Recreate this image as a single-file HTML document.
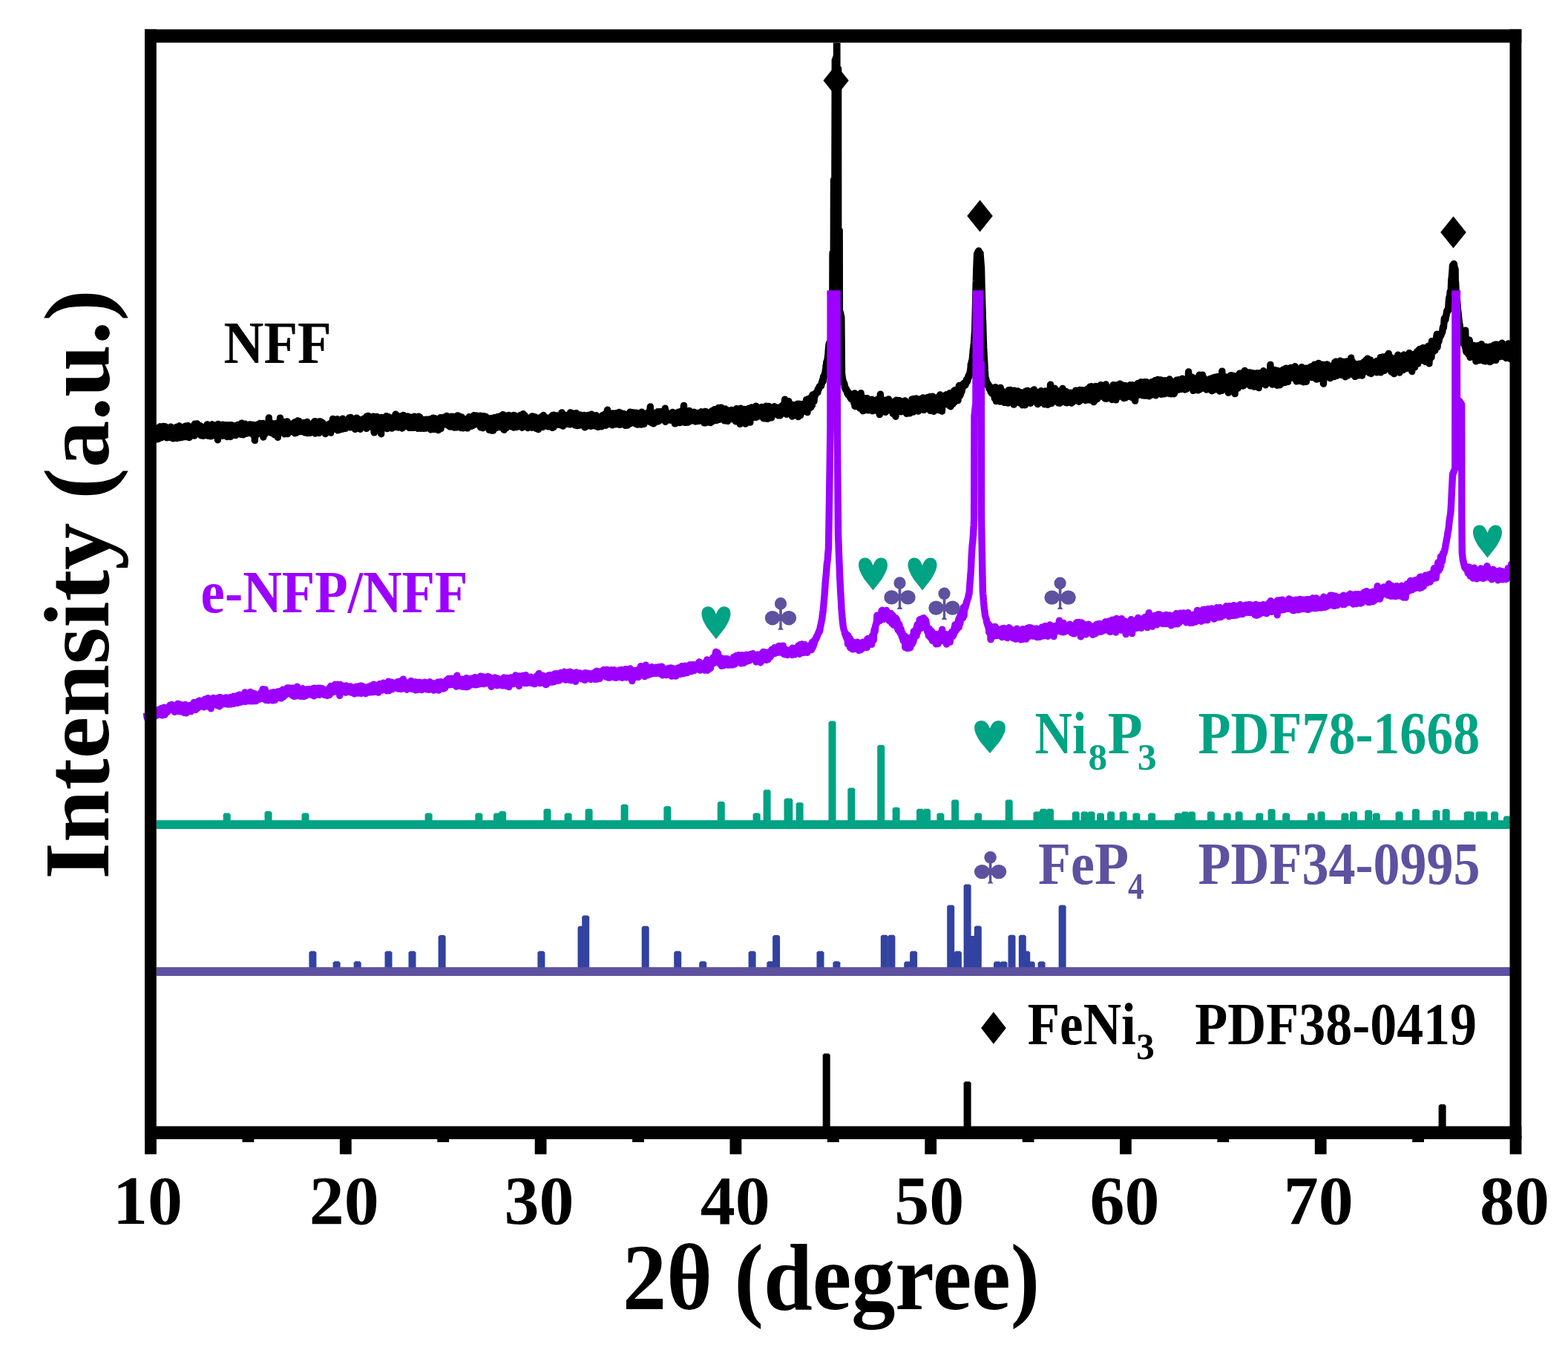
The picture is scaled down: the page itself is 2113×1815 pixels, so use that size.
<!DOCTYPE html><html><head><meta charset="utf-8"><title>XRD</title><style>html,body{margin:0;padding:0;background:#fff;overflow:hidden}svg{display:block}</style></head><body><svg width="2113" height="1815" viewBox="0 0 2113 1815"><defs><clipPath id="pa"><rect x="190" y="57.5" width="1845" height="1460"/></clipPath></defs><rect width="2113" height="1815" fill="#fff"/><g clip-path="url(#pa)" fill="none" stroke-linejoin="round" stroke-linecap="butt"><path d="M203.0 587.3L203.5 591.9L204.1 589.6L204.6 580.1L205.1 581.2L205.6 591.0L206.2 576.0L206.7 589.9L207.2 589.4L207.7 583.6L208.3 580.7L208.8 580.1L209.3 579.6L209.8 582.8L210.4 583.7L210.9 584.4L211.4 591.9L211.9 588.3L212.5 585.3L213.0 591.5L213.5 578.1L214.0 577.1L214.6 584.8L215.1 575.0L215.6 574.8L216.1 583.0L216.7 582.1L217.2 589.9L217.7 584.9L218.2 583.0L218.8 582.7L219.3 578.5L219.8 574.5L220.3 577.6L220.9 586.3L221.4 577.9L221.9 580.9L222.4 574.6L223.0 588.9L223.5 577.3L224.0 579.3L224.5 589.8L225.1 583.5L225.6 589.2L226.1 585.6L226.7 587.4L227.2 576.1L227.7 583.8L228.2 583.1L228.8 589.3L229.3 580.4L229.8 584.4L230.0 575.1L230.3 580.7L230.9 579.6L231.4 576.6L231.9 588.1L232.4 580.5L233.0 590.8L233.5 584.1L234.0 584.4L234.5 584.9L235.1 585.6L235.6 576.5L236.1 581.5L236.6 578.0L237.2 580.8L237.7 575.5L238.2 590.5L238.7 577.4L239.3 585.3L239.8 578.8L240.3 588.6L240.8 584.9L241.4 574.0L241.9 588.0L242.4 589.7L242.9 588.9L243.5 583.1L244.0 575.8L244.5 576.6L245.0 589.3L245.6 582.8L246.1 576.4L246.6 588.6L247.1 584.4L247.7 583.2L248.2 579.9L248.7 580.5L249.3 577.6L249.8 574.1L250.3 588.6L250.8 581.6L251.4 582.9L251.9 579.0L252.4 586.3L252.9 573.8L253.5 579.7L254.0 573.7L254.5 575.1L255.0 589.6L255.6 584.1L256.1 580.0L256.6 581.5L257.1 587.3L257.7 578.0L258.2 582.1L258.7 583.6L259.2 577.8L259.8 580.4L260.3 584.6L260.8 586.9L261.3 573.8L261.9 587.1L262.4 571.1L262.9 583.9L263.4 584.8L264.0 573.2L264.5 578.0L265.0 584.8L265.5 571.0L266.1 581.5L266.6 584.3L267.1 579.5L267.6 583.1L268.2 574.5L268.7 574.0L269.2 576.8L269.7 573.6L270.3 576.4L270.8 586.7L271.3 580.2L271.9 576.2L272.4 575.0L272.9 586.7L273.4 577.9L274.0 587.2L274.5 579.2L275.0 579.3L275.5 577.9L276.1 583.2L276.6 580.4L277.1 577.8L277.6 584.5L278.2 577.7L278.7 586.6L279.2 571.9L279.7 578.2L280.3 579.9L280.8 587.4L281.3 575.4L281.8 585.0L282.4 582.8L282.9 583.5L283.4 582.0L283.9 587.9L284.5 576.8L285.0 577.9L285.5 574.5L286.0 571.8L286.6 574.5L287.1 586.6L287.6 585.2L288.1 572.6L288.7 581.0L289.2 578.7L289.7 580.7L290.2 581.7L290.8 575.6L291.3 586.9L291.8 578.3L292.3 581.1L292.9 581.2L293.4 592.7L293.9 571.4L294.5 577.5L295.0 583.7L295.5 584.7L296.0 583.3L296.6 572.8L297.1 586.7L297.6 584.9L298.1 586.4L298.7 580.4L299.2 587.3L299.7 572.4L300.0 572.3L300.2 572.2L300.8 576.3L301.3 576.3L301.8 575.4L302.3 582.0L302.9 572.9L303.4 582.4L303.9 575.1L304.4 584.0L305.0 572.7L305.5 577.6L306.0 588.5L306.5 581.5L307.1 586.2L307.6 583.5L308.1 582.7L308.6 575.4L309.2 572.9L309.7 572.7L310.2 585.8L310.7 588.5L311.3 586.6L311.8 572.7L312.3 577.6L312.8 577.2L313.4 573.7L313.9 582.5L314.4 585.4L314.9 577.0L315.5 586.4L316.0 585.2L316.5 573.6L317.1 584.6L317.6 586.5L318.1 574.6L318.6 581.0L319.2 582.0L319.7 581.4L320.2 572.5L320.7 582.1L321.3 581.5L321.8 584.6L322.3 584.2L322.8 575.8L323.4 582.5L323.9 584.9L324.4 585.2L324.9 572.5L325.5 570.1L326.0 580.8L326.5 573.2L327.0 579.1L327.6 585.7L328.1 575.9L328.6 573.7L329.1 577.2L329.7 580.7L330.2 571.2L330.7 576.1L331.2 571.9L331.8 581.1L332.3 584.1L332.8 576.3L333.3 576.3L333.9 579.3L334.4 573.8L334.9 574.5L335.4 576.0L336.0 578.3L336.5 571.9L337.0 583.6L337.5 580.7L338.1 575.9L338.6 572.2L339.1 584.1L339.7 573.2L340.2 573.3L340.7 573.3L341.2 572.4L341.8 586.7L342.3 584.6L342.8 576.3L343.3 593.4L343.9 581.6L344.4 574.0L344.9 578.2L345.4 585.9L346.0 577.0L346.5 582.7L347.0 571.9L347.5 582.7L348.1 583.3L348.6 584.0L349.1 581.3L349.6 575.8L350.2 570.4L350.7 578.1L351.2 582.0L351.7 572.1L352.3 573.3L352.8 577.8L353.3 581.4L353.8 577.3L354.4 570.4L354.9 589.0L355.4 581.9L355.9 579.2L356.5 580.5L357.0 585.2L357.5 584.2L358.0 582.6L358.6 581.4L359.1 574.9L359.6 579.1L360.1 571.3L360.7 581.2L361.2 581.2L361.7 580.6L362.3 563.0L362.8 574.8L363.3 575.5L363.8 568.9L364.4 582.9L364.9 577.8L365.4 575.1L365.9 577.9L366.5 580.9L367.0 575.1L367.5 582.9L368.0 584.4L368.6 575.3L369.1 571.0L369.6 581.8L370.1 585.8L370.7 571.2L371.2 581.0L371.7 582.9L372.2 584.6L372.8 570.8L373.3 570.3L373.8 585.7L374.3 589.3L374.9 576.9L375.4 578.5L375.9 576.2L376.4 581.4L377.0 571.7L377.5 563.1L378.0 572.0L378.5 581.5L379.1 569.3L379.6 576.2L380.1 568.5L380.6 573.3L381.2 582.7L381.7 580.1L382.2 575.5L382.7 568.5L383.3 584.7L383.8 582.8L384.3 583.2L384.9 571.6L385.4 574.1L385.9 571.2L386.4 569.5L387.0 567.9L387.5 584.6L388.0 569.5L388.5 570.5L389.1 582.4L389.6 575.9L390.1 570.7L390.6 579.2L391.2 572.2L391.7 576.7L392.2 572.5L392.7 576.6L393.3 578.5L393.8 576.8L394.3 574.4L394.8 581.1L395.4 582.5L395.9 570.4L396.4 569.5L396.9 569.0L397.5 583.9L398.0 583.1L398.5 570.7L399.0 583.4L399.6 570.1L400.0 575.2L400.1 575.0L400.6 582.2L401.1 567.0L401.7 571.7L402.2 576.6L402.7 567.4L403.2 570.3L403.8 574.3L404.3 581.5L404.8 579.5L405.3 580.7L405.9 579.6L406.4 578.7L406.9 581.2L407.5 578.4L408.0 579.4L408.5 571.9L409.0 569.6L409.6 579.9L410.1 569.7L410.6 582.8L411.1 577.2L411.7 572.6L412.2 583.1L412.7 569.6L413.2 575.8L413.8 568.5L414.3 583.6L414.8 576.9L415.3 580.8L415.9 571.8L416.4 580.8L416.9 579.1L417.4 578.0L418.0 583.3L418.5 574.4L419.0 574.1L419.5 578.9L420.1 581.4L420.6 572.8L421.1 578.6L421.6 570.7L422.2 576.7L422.7 580.5L423.2 568.4L423.7 579.9L424.3 567.6L424.8 584.0L425.3 575.5L425.8 574.5L426.4 580.0L426.9 576.6L427.4 580.2L427.9 569.0L428.5 577.2L429.0 577.1L429.5 583.5L430.1 568.0L430.6 575.1L431.1 578.1L431.6 576.6L432.2 568.3L432.7 577.2L433.2 570.6L433.7 570.1L434.3 581.8L434.8 569.9L435.3 574.2L435.8 579.2L436.4 578.4L436.9 575.6L437.4 579.9L437.9 573.9L438.5 584.5L439.0 579.9L439.5 577.4L440.0 576.7L440.6 572.6L441.1 575.1L441.6 572.3L442.1 578.2L442.7 571.8L443.2 573.2L443.7 578.1L444.2 573.6L444.8 570.7L445.3 579.0L445.8 583.1L446.3 579.0L446.9 572.4L447.4 571.8L447.9 576.3L448.4 564.4L449.0 570.4L449.5 578.4L450.0 573.4L450.5 572.9L451.1 574.6L451.6 574.7L452.1 573.0L452.7 570.1L453.2 565.9L453.7 567.7L454.2 564.7L454.8 570.1L455.3 579.9L455.8 568.7L456.3 570.3L456.9 569.0L457.4 572.7L457.9 579.1L458.4 578.1L459.0 569.3L459.5 567.4L460.0 578.1L460.5 567.4L461.1 574.8L461.6 564.2L462.1 578.0L462.6 568.4L463.2 571.6L463.7 566.4L464.2 570.3L464.7 577.3L465.3 577.3L465.8 571.0L466.3 576.1L466.8 570.6L467.4 569.1L467.9 572.0L468.4 565.9L468.9 574.1L469.5 574.4L470.0 575.4L470.5 562.9L471.0 566.1L471.6 575.8L472.1 569.3L472.6 562.5L473.1 573.2L473.7 565.6L474.2 572.4L474.7 567.8L475.3 572.3L475.8 570.1L476.3 569.6L476.8 570.4L477.4 572.3L477.9 565.0L478.4 578.2L478.9 566.7L479.5 567.1L480.0 566.3L480.5 563.1L481.0 569.4L481.6 575.5L482.1 574.5L482.6 565.7L483.1 564.7L483.7 568.0L484.2 575.8L484.7 570.9L485.2 578.3L485.8 573.8L486.3 573.2L486.8 575.7L487.3 575.3L487.9 568.2L488.4 566.6L488.9 569.6L489.4 570.4L490.0 564.2L490.5 569.3L491.0 572.5L491.5 563.6L492.1 563.5L492.6 564.0L493.1 565.7L493.6 577.3L494.2 561.0L494.7 563.6L495.2 563.2L495.7 568.4L496.3 560.4L496.8 568.0L497.3 562.8L497.9 564.6L498.4 573.7L498.9 571.1L499.4 570.6L500.0 567.0L500.0 567.2L500.5 574.2L501.0 562.8L501.5 576.1L502.1 575.6L502.6 571.8L503.1 561.1L503.6 571.8L504.2 582.9L504.7 573.8L505.2 564.2L505.7 577.1L506.3 576.0L506.8 562.7L507.3 566.2L507.8 561.4L508.4 575.4L508.9 577.0L509.4 578.4L509.9 571.9L510.5 573.0L511.0 573.3L511.5 571.6L512.0 578.3L512.6 572.4L513.1 567.8L513.6 584.7L514.1 562.5L514.7 574.8L515.2 574.4L515.7 569.7L516.2 577.2L516.8 575.6L517.3 568.3L517.8 563.8L518.3 564.7L518.9 565.6L519.4 567.6L519.9 570.0L520.5 560.8L521.0 566.9L521.5 577.6L522.0 573.7L522.6 576.6L523.1 568.7L523.6 561.6L524.1 575.1L524.7 565.6L525.2 563.7L525.7 564.7L526.2 572.9L526.8 564.6L527.3 565.5L527.8 577.1L528.3 565.5L528.9 573.0L529.4 563.0L529.9 574.9L530.4 562.8L531.0 569.7L531.5 561.4L532.0 570.4L532.5 575.5L533.1 558.2L533.6 565.7L534.1 559.5L534.6 571.5L535.2 566.4L535.7 571.9L536.2 568.9L536.7 576.0L537.3 566.1L537.8 574.1L538.3 574.0L538.8 573.7L539.4 567.3L539.9 573.3L540.4 572.7L540.9 560.5L541.5 560.9L542.0 577.1L542.5 572.6L543.1 563.7L543.6 559.5L544.1 564.8L544.6 568.0L545.2 574.7L545.7 567.5L546.2 564.7L546.7 565.0L547.3 565.8L547.8 563.5L548.3 564.4L548.8 562.8L549.4 560.9L549.9 568.0L550.4 563.7L550.9 573.0L551.5 576.3L552.0 565.1L552.5 570.5L553.0 569.5L553.6 562.1L554.1 563.1L554.6 576.4L555.1 569.3L555.7 575.1L556.2 562.3L556.7 571.5L557.2 576.2L557.8 576.2L558.3 561.2L558.8 570.1L559.3 567.4L559.9 574.1L560.4 562.1L560.9 565.3L561.4 574.8L562.0 568.7L562.5 568.4L563.0 577.3L563.5 565.9L564.1 561.1L564.6 567.2L565.1 563.1L565.7 561.9L566.2 570.4L566.7 577.2L567.2 570.8L567.8 572.1L568.3 566.6L568.8 571.1L569.3 574.4L569.9 571.8L570.4 575.7L570.9 577.2L571.4 565.5L572.0 572.4L572.5 570.9L573.0 565.4L573.5 573.4L574.1 577.0L574.6 565.2L575.1 572.4L575.6 575.7L576.2 570.0L576.7 567.7L577.2 569.4L577.7 572.4L578.3 574.9L578.8 572.6L579.3 564.7L579.8 577.0L580.4 578.8L580.9 564.4L581.4 566.9L581.9 565.5L582.5 577.2L583.0 578.3L583.5 563.2L584.0 568.2L584.6 565.7L585.1 570.5L585.6 578.4L586.1 563.6L586.7 565.4L587.2 570.9L587.7 571.6L588.3 575.4L588.8 570.1L589.3 565.0L589.8 568.7L590.4 579.6L590.9 575.6L591.4 564.6L591.9 576.6L592.5 567.9L593.0 576.0L593.5 562.6L594.0 577.5L594.6 565.0L595.1 570.0L595.6 573.5L596.1 570.7L596.7 564.5L597.2 563.9L597.7 566.3L598.2 562.1L598.8 564.7L599.3 563.1L599.8 568.7L600.3 566.6L600.9 570.5L601.4 565.0L601.9 560.5L602.4 565.5L603.0 572.8L603.5 563.9L604.0 564.8L604.5 572.4L605.1 566.2L605.6 574.5L606.1 575.0L606.6 564.4L607.2 571.7L607.7 563.3L608.2 561.3L608.7 566.5L609.3 569.4L609.8 575.2L610.3 561.5L610.9 571.4L611.4 567.4L611.9 561.4L612.4 576.1L613.0 571.3L613.5 561.5L614.0 575.1L614.5 561.2L615.1 561.0L615.6 565.2L616.1 575.7L616.6 560.0L617.2 575.4L617.7 570.1L618.2 560.6L618.7 569.3L619.3 567.3L619.8 569.1L620.3 572.1L620.8 571.1L621.4 576.6L621.9 562.0L622.4 573.4L622.9 566.5L623.5 573.0L624.0 575.7L624.5 576.8L625.0 564.2L625.6 567.5L626.1 576.2L626.6 576.3L627.1 572.4L627.7 576.4L628.2 567.2L628.7 566.7L629.2 572.6L629.8 576.9L630.3 568.2L630.8 567.2L631.3 568.0L631.9 562.9L632.4 561.6L632.9 573.6L633.5 570.3L634.0 572.1L634.5 574.4L635.0 564.4L635.6 564.4L636.1 565.1L636.6 565.5L637.1 573.4L637.7 566.6L638.2 565.6L638.7 559.7L639.2 563.1L639.8 561.6L640.3 571.9L640.8 569.9L641.3 564.7L641.9 562.5L642.4 560.0L642.9 566.4L643.4 569.3L644.0 563.6L644.5 565.2L645.0 569.7L645.5 569.3L646.1 561.6L646.6 571.2L647.1 560.3L647.6 575.8L648.2 562.4L648.7 563.3L649.2 562.5L649.7 576.3L650.0 564.2L650.3 569.9L650.8 576.7L651.3 576.2L651.8 560.6L652.4 569.2L652.9 570.8L653.4 572.8L653.9 566.7L654.5 566.9L655.0 561.5L655.5 562.3L656.0 571.5L656.6 563.5L657.1 566.0L657.6 568.5L658.2 564.1L658.7 563.6L659.2 579.3L659.7 570.9L660.3 566.9L660.8 575.8L661.3 563.6L661.8 567.7L662.4 580.1L662.9 578.9L663.4 574.2L663.9 564.6L664.5 580.0L665.0 563.0L665.5 566.2L666.0 562.6L666.6 564.1L667.1 572.7L667.6 563.1L668.1 563.8L668.7 576.6L669.2 566.5L669.7 566.2L670.2 561.7L670.8 573.9L671.3 571.7L671.8 569.3L672.3 570.4L672.9 561.2L673.4 574.8L673.9 569.5L674.4 575.9L675.0 573.5L675.5 570.4L676.0 568.3L676.5 559.5L677.1 574.8L677.6 558.8L678.1 561.6L678.6 571.5L679.2 579.3L679.7 573.2L680.2 567.4L680.8 562.6L681.3 560.1L681.8 574.4L682.3 576.6L682.9 563.7L683.4 574.6L683.9 566.4L684.4 564.8L685.0 568.1L685.5 559.4L686.0 566.9L686.5 562.6L687.1 571.5L687.6 567.7L688.1 574.1L688.6 574.5L689.2 564.3L689.7 563.7L690.2 575.1L690.7 567.5L691.3 560.4L691.8 559.5L692.3 576.0L692.8 568.8L693.4 559.7L693.9 567.7L694.4 567.6L694.9 566.4L695.5 575.5L696.0 575.5L696.5 561.1L697.0 561.6L697.6 566.1L698.1 573.6L698.6 569.9L699.1 571.8L699.7 569.1L700.2 562.8L700.7 573.4L701.2 559.4L701.8 571.3L702.3 562.5L702.8 567.4L703.4 576.2L703.9 568.6L704.4 560.2L704.9 557.7L705.5 570.8L706.0 560.3L706.5 563.8L707.0 559.7L707.6 568.9L708.1 566.2L708.6 568.3L709.1 564.8L709.7 571.1L710.2 562.7L710.7 575.5L711.2 576.5L711.8 568.4L712.3 567.9L712.8 574.8L713.3 564.9L713.9 573.9L714.4 564.9L714.9 572.5L715.4 565.8L716.0 570.5L716.5 576.2L717.0 561.0L717.5 574.2L718.1 569.6L718.6 566.8L719.1 566.3L719.6 561.4L720.2 564.8L720.7 571.2L721.2 562.0L721.7 572.0L722.3 577.1L722.8 577.4L723.3 575.8L723.8 574.3L724.4 563.3L724.9 577.1L725.4 578.6L726.0 570.3L726.5 575.3L727.0 570.8L727.5 568.9L728.1 563.3L728.6 568.8L729.1 564.7L729.6 561.7L730.2 561.7L730.7 573.4L731.2 575.5L731.7 561.8L732.3 559.5L732.8 563.8L733.3 561.6L733.8 562.5L734.4 569.3L734.9 566.5L735.4 566.6L735.9 562.7L736.5 570.7L737.0 564.1L737.5 566.0L738.0 567.2L738.6 574.9L739.1 563.4L739.6 571.6L740.1 564.5L740.7 574.7L741.2 566.0L741.7 567.9L742.2 574.4L742.8 570.8L743.3 560.7L743.8 561.4L744.3 576.3L744.9 559.5L745.4 559.9L745.9 575.6L746.4 559.1L747.0 561.5L747.5 562.4L748.0 560.0L748.6 566.7L749.1 568.7L749.6 563.8L750.1 560.0L750.7 572.2L751.2 572.0L751.7 567.6L752.2 560.1L752.8 567.1L753.3 568.6L753.8 565.0L754.3 572.5L754.9 564.1L755.4 566.2L755.9 559.2L756.4 567.0L757.0 555.9L757.5 569.7L758.0 561.3L758.5 574.1L759.1 569.2L759.6 563.9L760.1 563.7L760.6 569.9L761.2 559.2L761.7 567.2L762.2 568.5L762.7 564.8L763.3 570.9L763.8 563.8L764.3 563.6L764.8 560.4L765.4 571.4L765.9 560.8L766.4 567.4L766.9 562.4L767.5 571.7L768.0 571.9L768.5 555.9L769.0 561.3L769.6 566.1L770.1 556.9L770.6 564.4L771.2 556.7L771.7 565.5L772.2 559.2L772.7 562.5L773.3 561.5L773.8 566.8L774.3 570.8L774.8 572.9L775.4 562.3L775.9 566.6L776.4 556.8L776.9 563.3L777.5 573.6L778.0 559.0L778.5 572.2L779.0 568.4L779.6 562.2L780.1 570.8L780.6 562.3L781.1 573.0L781.7 558.9L782.2 559.6L782.7 570.7L783.2 565.6L783.8 560.4L784.3 566.9L784.8 563.3L785.3 567.8L785.9 571.3L786.4 573.4L786.9 559.5L787.4 568.9L788.0 575.8L788.5 566.7L789.0 572.2L789.5 560.4L790.1 574.0L790.6 568.8L791.1 574.2L791.6 572.4L792.2 573.7L792.7 559.5L793.2 570.9L793.8 561.8L794.3 562.9L794.8 563.9L795.3 568.5L795.9 569.1L796.4 574.4L796.9 558.3L797.4 561.5L798.0 564.5L798.5 572.5L799.0 567.8L799.5 567.2L800.0 571.6L800.1 566.7L800.6 563.6L801.1 560.9L801.6 566.7L802.2 574.1L802.7 569.2L803.2 559.7L803.7 566.5L804.3 572.2L804.8 569.0L805.3 569.1L805.8 575.4L806.4 564.7L806.9 565.8L807.4 569.4L807.9 574.1L808.5 570.8L809.0 566.6L809.5 572.5L810.0 566.6L810.6 574.8L811.1 562.7L811.6 559.8L812.1 572.0L812.7 562.5L813.2 572.0L813.7 567.6L814.2 565.7L814.8 558.2L815.3 570.3L815.8 557.5L816.4 573.2L816.9 571.5L817.4 561.3L817.9 558.2L818.5 552.3L819.0 564.2L819.5 557.9L820.0 564.4L820.6 559.9L821.1 562.7L821.6 566.8L822.1 571.5L822.7 569.5L823.2 558.3L823.7 563.8L824.2 564.1L824.8 572.8L825.3 557.0L825.8 564.4L826.3 571.5L826.9 562.4L827.4 560.0L827.9 565.2L828.4 561.1L829.0 571.7L829.5 557.0L830.0 559.1L830.5 557.0L831.1 568.0L831.6 560.6L832.1 571.3L832.6 571.1L833.2 571.9L833.7 560.0L834.2 555.5L834.7 562.3L835.3 572.3L835.8 568.8L836.3 556.5L836.8 567.8L837.4 571.6L837.9 564.0L838.4 568.1L839.0 570.7L839.5 570.4L840.0 562.0L840.5 557.5L841.1 568.5L841.6 558.2L842.1 562.5L842.6 573.3L843.2 565.6L843.7 564.9L844.2 572.3L844.7 560.7L845.3 573.1L845.8 571.5L846.3 561.9L846.8 561.1L847.4 557.5L847.9 571.3L848.4 558.4L848.9 555.2L849.5 570.6L850.0 565.4L850.5 566.7L851.0 567.8L851.6 555.6L852.1 556.5L852.6 563.7L853.1 555.9L853.7 563.9L854.2 568.0L854.7 566.7L855.2 566.0L855.8 556.1L856.3 559.5L856.8 571.2L857.3 557.6L857.9 564.9L858.4 556.4L858.9 572.1L859.4 558.6L860.0 562.8L860.5 565.2L861.0 568.1L861.6 571.9L862.1 568.3L862.6 561.5L863.1 556.6L863.7 567.6L864.2 572.1L864.7 555.2L865.2 568.4L865.8 557.8L866.3 563.0L866.8 563.5L867.3 565.0L867.9 571.4L868.4 566.0L868.9 560.7L869.4 566.2L870.0 561.7L870.5 560.7L871.0 559.7L871.5 561.9L872.1 558.1L872.6 557.3L873.1 555.7L873.6 560.8L874.2 558.2L874.7 567.7L875.2 568.0L875.7 559.2L876.3 547.9L876.8 569.1L877.3 559.6L877.8 563.1L878.4 561.3L878.9 564.8L879.4 570.5L879.9 556.2L880.5 570.8L881.0 565.6L881.5 567.9L882.0 565.1L882.6 569.3L883.1 559.7L883.6 566.4L884.2 558.6L884.7 562.9L885.2 565.8L885.7 557.4L886.3 554.8L886.8 567.6L887.3 567.8L887.8 565.2L888.4 559.1L888.9 564.9L889.4 554.8L889.9 564.9L890.5 563.3L891.0 563.9L891.5 560.9L892.0 556.9L892.6 565.7L893.1 561.0L893.6 565.9L894.1 559.2L894.7 554.3L895.2 562.2L895.7 563.6L896.2 550.3L896.8 568.2L897.3 553.7L897.8 566.2L898.3 557.3L898.9 565.1L899.4 559.6L899.9 558.7L900.4 561.8L901.0 562.7L901.5 565.7L902.0 564.9L902.5 565.8L903.1 560.9L903.6 566.2L904.1 560.6L904.6 565.4L905.2 563.0L905.7 564.9L906.2 555.5L906.8 564.0L907.3 559.2L907.8 562.1L908.3 556.6L908.9 566.8L909.4 570.9L909.9 561.3L910.4 556.7L911.0 565.6L911.5 556.7L912.0 569.9L912.5 556.1L913.1 560.1L913.6 562.2L914.1 555.3L914.6 558.6L915.2 557.6L915.7 565.0L916.2 569.6L916.7 558.5L917.3 565.9L917.8 554.3L918.3 561.9L918.8 559.3L919.4 556.7L919.9 566.0L920.4 564.7L920.9 554.0L921.5 546.4L922.0 566.1L922.5 569.2L923.0 562.6L923.6 567.3L924.1 569.4L924.6 565.2L925.1 563.6L925.7 556.3L926.2 559.1L926.7 563.6L927.2 569.0L927.8 558.2L928.3 559.9L928.8 553.5L929.4 565.4L929.9 561.0L930.4 567.3L930.9 557.5L931.5 565.0L932.0 565.3L932.5 561.7L933.0 556.9L933.6 560.7L934.1 566.8L934.6 557.0L935.1 555.3L935.7 561.8L936.2 557.8L936.7 567.7L937.2 568.0L937.8 556.8L938.3 560.0L938.8 564.7L939.3 556.5L939.9 567.6L940.4 565.8L940.9 566.0L941.4 565.0L942.0 567.2L942.5 557.7L943.0 564.2L943.5 561.4L944.1 558.1L944.6 557.9L945.1 554.8L945.6 560.7L946.2 558.6L946.7 559.6L947.2 567.2L947.7 564.3L948.3 564.3L948.8 569.8L949.3 556.4L949.8 561.7L950.0 554.5L950.4 559.9L950.9 569.7L951.4 554.6L952.0 566.4L952.5 568.3L953.0 562.1L953.5 567.1L954.1 560.8L954.6 559.1L955.1 561.7L955.6 556.1L956.2 557.9L956.7 557.7L957.2 569.5L957.7 557.8L958.3 555.7L958.8 568.0L959.3 553.7L959.8 568.0L960.4 565.8L960.9 562.0L961.4 557.9L961.9 553.6L962.5 551.8L963.0 551.6L963.5 566.0L964.0 556.6L964.6 565.6L965.1 558.6L965.6 566.5L966.1 561.7L966.7 551.5L967.2 558.6L967.7 551.6L968.2 549.5L968.8 565.4L969.3 554.7L969.8 552.1L970.3 550.6L970.9 560.3L971.4 557.0L971.9 549.1L972.4 561.5L973.0 553.5L973.5 562.8L974.0 557.7L974.6 558.6L975.1 557.3L975.6 561.3L976.1 566.9L976.7 563.6L977.2 550.9L977.7 558.5L978.2 554.1L978.8 551.9L979.3 553.7L979.8 554.7L980.3 567.4L980.9 563.7L981.4 565.8L981.9 563.2L982.4 556.5L983.0 557.9L983.5 558.8L984.0 556.3L984.5 558.6L985.1 564.7L985.6 552.5L986.1 556.0L986.6 559.5L987.2 562.9L987.7 562.3L988.2 563.6L988.7 552.6L989.3 553.9L989.8 554.9L990.3 555.4L990.8 563.7L991.4 567.8L991.9 562.2L992.4 550.7L992.9 555.3L993.5 564.1L994.0 566.2L994.5 560.4L995.0 556.0L995.6 556.2L996.1 561.1L996.6 565.2L997.2 571.3L997.7 553.4L998.2 550.1L998.7 552.6L999.3 565.2L999.8 561.2L1000.3 567.7L1000.8 551.5L1001.4 556.7L1001.9 564.3L1002.4 561.9L1002.9 551.4L1003.5 557.2L1004.0 561.3L1004.5 571.1L1005.0 557.9L1005.6 553.2L1006.1 566.8L1006.6 557.9L1007.1 562.2L1007.7 567.5L1008.2 550.8L1008.7 553.4L1009.2 550.3L1009.8 552.4L1010.3 552.5L1010.8 569.0L1011.3 554.5L1011.9 555.1L1012.4 563.1L1012.9 548.9L1013.4 550.2L1014.0 562.6L1014.5 557.6L1015.0 555.7L1015.5 552.5L1016.1 557.2L1016.6 551.4L1017.1 562.4L1017.6 561.6L1018.2 552.5L1018.7 547.1L1019.2 562.2L1019.8 551.5L1020.3 557.7L1020.8 557.6L1021.3 560.0L1021.9 561.0L1022.4 554.3L1022.9 560.5L1023.4 553.8L1024.0 550.3L1024.5 549.4L1025.0 551.6L1025.5 559.4L1026.1 560.6L1026.6 548.5L1027.1 560.4L1027.6 553.0L1028.2 554.6L1028.7 563.5L1029.2 563.4L1029.7 563.9L1030.3 559.8L1030.8 559.0L1031.3 551.9L1031.8 553.8L1032.4 547.2L1032.9 562.1L1033.4 552.2L1033.9 564.4L1034.5 552.9L1035.0 553.1L1035.5 560.2L1036.0 547.4L1036.6 551.4L1037.1 563.3L1037.6 562.5L1038.1 558.4L1038.7 557.9L1039.2 551.1L1039.7 562.7L1040.2 560.6L1040.8 556.2L1041.3 549.8L1041.8 550.8L1042.4 553.6L1042.9 552.7L1043.4 547.8L1043.9 553.9L1044.5 554.6L1045.0 551.6L1045.5 553.2L1046.0 552.2L1046.6 552.9L1047.1 557.1L1047.6 554.7L1048.1 549.2L1048.7 559.8L1049.2 554.6L1049.7 553.4L1050.2 557.8L1050.8 551.4L1051.3 559.9L1051.8 559.1L1052.3 556.4L1052.9 557.1L1053.4 546.9L1053.9 556.4L1054.4 548.3L1055.0 548.3L1055.5 545.7L1056.0 550.6L1056.5 543.7L1057.1 555.1L1057.6 538.1L1058.1 557.2L1058.6 545.5L1059.2 554.7L1059.7 558.3L1060.0 543.9L1060.2 558.0L1060.7 548.2L1061.3 551.7L1061.8 546.5L1062.3 555.2L1062.8 540.6L1063.4 555.3L1063.9 553.1L1064.4 556.0L1065.0 548.1L1065.5 556.5L1066.0 557.0L1066.5 556.8L1067.1 545.1L1067.6 561.0L1068.1 554.4L1068.6 549.0L1069.2 552.0L1069.7 553.5L1070.2 553.5L1070.7 548.7L1071.3 549.0L1071.8 550.8L1072.3 558.4L1072.8 552.2L1073.4 544.9L1073.9 552.3L1074.4 547.8L1074.9 544.3L1075.5 561.6L1076.0 549.1L1076.5 553.4L1077.0 550.0L1077.6 544.3L1078.1 559.4L1078.6 559.8L1079.1 546.0L1079.7 550.0L1080.0 549.0L1080.2 545.0L1080.7 553.6L1081.2 555.4L1081.8 554.7L1082.3 552.8L1082.8 549.9L1083.3 544.1L1083.9 548.9L1084.4 552.0L1084.9 546.0L1085.4 546.9L1086.0 553.7L1086.5 538.7L1087.0 542.9L1087.6 543.0L1088.0 555.6L1088.1 541.6L1088.6 537.8L1089.1 543.9L1089.7 547.6L1090.2 538.0L1090.7 550.0L1091.2 537.7L1091.8 546.4L1092.3 536.0L1092.8 548.5L1093.3 535.6L1093.9 544.7L1094.4 546.1L1094.9 535.0L1095.0 532.0L1095.4 540.1L1096.0 537.5L1096.5 536.2L1097.0 540.7L1097.5 533.9L1098.1 533.6L1098.6 532.5L1099.1 531.0L1099.6 529.1L1100.2 528.6L1100.7 528.3L1101.2 527.2L1101.7 526.1L1102.0 528.5L1102.3 524.3L1102.8 523.7L1103.3 524.4L1103.8 522.1L1104.4 520.6L1104.9 520.2L1105.4 519.8L1105.9 519.6L1106.5 520.1L1107.0 518.3L1107.5 514.9L1108.0 513.9L1108.5 512.7L1108.6 511.5L1109.1 513.8L1109.6 507.4L1110.2 506.6L1110.7 507.5L1111.2 505.5L1111.5 502.9L1111.7 505.2L1112.3 499.1L1112.8 497.0L1113.0 492.9L1113.3 495.4L1113.8 487.9L1114.4 486.3L1114.8 486.2L1114.9 485.9L1115.4 481.5L1115.9 476.9L1116.5 469.5L1117.0 464.2L1117.2 464.8L1117.5 462.2L1118.0 466.4L1118.6 460.4L1119.1 461.3L1119.6 459.9L1120.1 462.6L1120.7 459.9L1121.2 456.8L1121.7 460.6L1122.0 342.6L1122.2 340.2L1122.8 341.5L1123.3 340.0L1123.5 242.4L1123.8 244.6L1124.3 244.1L1124.9 241.3L1125.3 80.9L1125.4 83.4L1125.9 82.8L1126.4 78.6L1127.0 76.4L1127.5 79.8L1127.5 78.7L1127.7 -41.7L1127.9 92.1L1128.0 90.9L1128.5 95.1L1129.1 92.8L1129.6 92.9L1129.7 307.2L1130.1 309.5L1130.6 314.0L1131.2 310.7L1131.4 422.4L1131.7 425.5L1132.2 420.7L1132.8 422.9L1133.3 426.3L1133.8 427.1L1134.2 469.9L1134.3 485.1L1134.5 502.5L1134.9 506.9L1135.4 509.6L1135.9 513.3L1136.4 514.0L1136.5 514.8L1137.0 515.2L1137.5 516.9L1138.0 517.6L1138.5 523.0L1139.1 524.3L1139.6 522.8L1140.0 525.7L1140.1 524.8L1140.6 524.5L1141.2 525.7L1141.7 529.9L1142.2 527.3L1142.7 531.0L1143.3 532.3L1143.8 529.5L1144.3 533.2L1144.8 530.2L1145.4 534.4L1145.5 535.0L1145.9 535.6L1146.4 536.9L1146.9 535.9L1147.5 537.9L1148.0 534.5L1148.5 536.4L1149.0 535.2L1149.6 535.0L1150.1 536.1L1150.6 541.9L1151.1 543.5L1151.7 529.9L1152.0 547.3L1152.2 534.6L1152.7 535.6L1153.2 545.9L1153.8 547.3L1154.3 544.6L1154.8 537.4L1155.4 540.1L1155.9 547.3L1156.4 538.7L1156.9 547.3L1157.5 547.2L1158.0 541.7L1158.5 549.9L1159.0 540.7L1159.6 547.8L1160.1 529.6L1160.6 540.6L1161.1 544.6L1161.7 546.2L1162.0 545.1L1162.2 537.3L1162.7 553.7L1163.2 553.4L1163.8 536.2L1164.3 553.1L1164.8 545.5L1165.3 538.0L1165.9 550.9L1166.4 543.7L1166.9 549.0L1167.4 551.1L1168.0 545.7L1168.5 536.7L1169.0 551.1L1169.5 542.1L1170.1 552.8L1170.6 540.9L1171.1 550.5L1171.6 552.2L1172.2 542.6L1172.7 543.7L1173.2 542.3L1173.7 549.6L1174.3 540.5L1174.8 542.4L1175.3 538.3L1175.8 553.8L1176.4 544.3L1176.9 547.0L1177.4 541.7L1178.0 543.1L1178.5 550.5L1179.0 545.2L1179.5 547.6L1180.0 544.4L1180.1 546.8L1180.6 553.1L1181.1 541.3L1181.6 546.0L1182.2 549.1L1182.7 537.9L1183.2 554.3L1183.7 545.6L1184.3 541.0L1184.8 550.7L1185.3 558.6L1185.8 548.5L1186.4 531.2L1186.9 538.6L1187.4 546.9L1187.9 551.1L1188.5 554.5L1189.0 549.5L1189.5 548.9L1190.0 545.0L1190.6 548.6L1191.1 548.3L1191.6 555.0L1192.1 553.5L1192.7 551.9L1193.2 555.3L1193.7 539.2L1194.2 552.4L1194.8 546.5L1195.3 551.9L1195.8 543.2L1196.3 546.3L1196.9 552.9L1197.4 538.0L1197.9 542.7L1198.4 546.3L1199.0 545.5L1199.5 542.0L1200.0 552.4L1200.6 541.4L1201.1 542.5L1201.6 547.2L1202.1 552.5L1202.7 553.2L1203.2 557.2L1203.7 541.4L1204.2 550.7L1204.8 548.6L1205.3 544.0L1205.8 551.3L1206.3 553.6L1206.9 561.2L1207.4 554.0L1207.9 539.2L1208.4 539.9L1209.0 551.2L1209.5 542.6L1210.0 548.0L1210.5 546.4L1211.1 539.8L1211.6 551.3L1212.1 551.2L1212.6 540.0L1213.2 542.3L1213.7 552.6L1214.2 554.8L1214.7 554.2L1215.3 547.3L1215.8 544.9L1216.3 546.5L1216.8 541.6L1217.4 547.7L1217.9 542.8L1218.4 541.6L1218.9 545.9L1219.5 540.0L1220.0 547.7L1220.5 552.0L1221.0 551.2L1221.6 557.4L1222.1 555.7L1222.6 550.9L1223.2 555.8L1223.7 547.2L1224.2 553.8L1224.7 543.9L1225.3 548.4L1225.8 556.9L1226.3 549.6L1226.8 547.7L1227.4 552.9L1227.9 543.7L1228.4 553.5L1228.9 537.9L1229.5 542.0L1230.0 540.7L1230.0 542.1L1230.5 555.1L1231.0 537.5L1231.6 542.6L1232.1 547.7L1232.6 550.1L1233.1 551.3L1233.7 543.9L1234.2 540.7L1234.7 536.9L1235.2 538.7L1235.8 537.6L1236.3 540.7L1236.8 545.6L1237.3 554.1L1237.9 550.0L1238.4 546.8L1238.9 546.0L1239.4 549.2L1240.0 547.8L1240.5 542.2L1241.0 537.5L1241.5 539.4L1242.1 550.4L1242.6 547.5L1243.1 550.4L1243.6 536.0L1244.2 552.2L1244.7 540.6L1245.2 552.4L1245.8 545.9L1246.3 544.9L1246.8 550.0L1247.3 546.2L1247.9 547.1L1248.4 537.1L1248.9 545.6L1249.4 540.9L1250.0 535.5L1250.5 536.6L1251.0 543.2L1251.5 539.1L1252.1 548.7L1252.6 536.5L1253.1 534.5L1253.6 553.3L1254.2 540.4L1254.7 544.2L1255.2 538.6L1255.7 538.7L1256.3 542.5L1256.8 534.2L1257.3 535.8L1257.8 551.2L1258.4 554.3L1258.9 546.1L1259.4 542.4L1259.9 540.1L1260.5 539.3L1261.0 542.0L1261.5 552.2L1262.0 536.0L1262.6 551.1L1263.1 548.8L1263.6 536.4L1264.1 537.3L1264.7 550.0L1265.2 548.7L1265.7 552.7L1266.2 552.0L1266.8 532.0L1267.3 543.2L1267.8 537.0L1268.0 547.0L1268.4 535.9L1268.9 537.3L1269.4 554.0L1269.9 542.6L1270.5 545.3L1271.0 546.3L1271.5 543.5L1272.0 535.3L1272.6 544.5L1273.1 533.0L1273.6 535.7L1274.1 538.8L1274.7 532.2L1275.2 531.8L1275.7 542.1L1276.2 543.7L1276.8 536.4L1277.3 536.7L1277.8 533.1L1278.3 539.0L1278.9 540.1L1279.4 546.8L1279.9 529.6L1280.4 546.3L1281.0 547.8L1281.5 546.9L1282.0 542.5L1282.0 544.5L1282.5 540.8L1283.1 533.5L1283.6 539.6L1284.1 544.1L1284.6 528.8L1285.2 535.6L1285.7 526.4L1286.2 541.8L1286.7 540.1L1287.3 525.5L1287.8 538.6L1288.3 537.1L1288.8 525.7L1289.4 532.9L1289.9 535.6L1290.0 528.6L1290.4 531.2L1291.0 539.5L1291.5 532.1L1292.0 528.7L1292.5 519.5L1293.1 519.8L1293.6 533.1L1294.1 530.2L1294.6 531.2L1295.2 525.5L1295.7 524.7L1296.0 523.3L1296.2 527.0L1296.7 518.3L1297.3 520.8L1297.8 519.6L1298.3 521.3L1298.8 518.0L1299.4 516.1L1299.9 515.8L1300.4 515.6L1300.9 518.8L1301.0 518.0L1301.5 517.3L1302.0 516.1L1302.5 511.5L1303.0 512.5L1303.6 513.8L1304.0 510.9L1304.1 511.5L1304.6 508.7L1305.1 506.2L1305.7 507.8L1306.2 505.7L1306.5 504.2L1306.7 502.5L1307.2 502.3L1307.8 497.3L1308.0 497.6L1308.3 490.7L1308.8 493.7L1309.3 487.0L1309.8 486.1L1309.9 488.1L1310.4 482.2L1310.9 477.6L1311.4 470.6L1311.8 470.3L1312.0 465.4L1312.5 462.1L1313.0 454.4L1313.6 446.3L1313.7 445.4L1314.1 428.7L1314.6 408.8L1315.1 384.3L1315.4 378.4L1315.7 364.7L1316.2 352.8L1316.6 342.1L1316.7 343.9L1317.2 343.8L1317.8 339.1L1318.3 342.7L1318.8 338.0L1318.8 341.8L1319.3 341.5L1319.9 341.1L1320.4 341.5L1320.9 341.0L1321.0 341.2L1321.4 347.1L1322.0 354.7L1322.4 359.9L1322.5 360.0L1323.0 383.7L1323.5 400.3L1324.1 421.5L1324.1 425.8L1324.6 435.2L1325.1 454.2L1325.6 468.2L1325.7 469.9L1326.2 479.9L1326.7 488.4L1327.2 498.6L1327.4 501.4L1327.7 506.9L1328.3 511.1L1328.8 510.7L1329.1 516.7L1329.3 514.2L1329.8 514.7L1330.4 515.8L1330.9 519.1L1331.4 518.4L1331.9 519.2L1332.0 518.5L1332.5 520.5L1333.0 523.9L1333.5 520.2L1334.0 523.7L1334.6 525.2L1335.1 527.9L1335.6 524.9L1336.0 529.1L1336.2 529.7L1336.7 529.2L1337.2 525.6L1337.7 529.5L1338.3 528.0L1338.8 526.8L1339.3 529.0L1339.8 532.0L1340.4 536.8L1340.9 527.7L1341.4 521.7L1341.9 538.5L1342.5 540.6L1343.0 531.7L1343.0 526.1L1343.5 532.4L1344.0 535.5L1344.6 531.4L1345.1 528.9L1345.6 526.9L1346.1 527.9L1346.7 523.1L1347.2 527.2L1347.7 541.0L1348.2 522.5L1348.8 536.8L1349.3 538.1L1349.8 530.6L1350.3 534.5L1350.9 527.2L1351.4 536.1L1351.9 537.0L1352.4 537.6L1353.0 532.9L1353.5 542.4L1354.0 540.4L1354.5 534.7L1355.1 535.8L1355.6 529.0L1356.1 542.2L1356.6 536.4L1357.2 541.3L1357.7 529.4L1358.2 543.1L1358.8 525.9L1359.3 534.3L1359.8 526.1L1360.3 527.7L1360.9 539.2L1361.4 525.5L1361.9 531.9L1362.4 528.2L1363.0 541.4L1363.5 526.3L1364.0 531.5L1364.5 542.0L1365.1 538.8L1365.6 537.6L1366.1 545.1L1366.6 526.2L1367.2 539.0L1367.7 540.8L1368.2 541.0L1368.7 540.4L1369.3 527.9L1369.8 528.2L1370.0 542.0L1370.3 538.8L1370.8 531.9L1371.4 526.9L1371.9 537.3L1372.4 532.1L1372.9 541.6L1373.5 533.5L1374.0 542.8L1374.5 528.7L1375.0 536.5L1375.6 528.7L1376.1 542.2L1376.6 537.8L1377.1 531.3L1377.7 545.7L1378.2 540.1L1378.7 533.2L1379.2 543.4L1379.8 533.9L1380.3 545.1L1380.8 532.2L1381.4 545.7L1381.9 527.3L1382.4 540.6L1382.9 531.7L1383.5 534.2L1384.0 538.4L1384.5 526.5L1385.0 529.9L1385.6 527.4L1386.1 540.0L1386.6 529.5L1387.1 534.9L1387.7 531.4L1388.2 529.5L1388.7 543.3L1389.2 534.7L1389.8 537.5L1390.3 538.5L1390.8 540.8L1391.3 529.7L1391.9 526.0L1392.4 533.8L1392.9 527.9L1393.4 525.0L1394.0 534.4L1394.5 537.3L1395.0 533.1L1395.5 527.7L1396.1 533.5L1396.6 542.1L1397.1 528.8L1397.6 533.4L1398.2 544.6L1398.7 544.3L1399.2 542.4L1399.7 536.6L1400.3 532.1L1400.8 539.2L1401.3 529.2L1401.8 538.6L1402.4 527.7L1402.9 526.6L1403.4 540.7L1404.0 533.3L1404.5 540.4L1405.0 542.0L1405.5 543.1L1406.1 538.7L1406.6 543.3L1407.1 539.5L1407.6 544.8L1408.2 544.1L1408.7 526.9L1409.2 531.3L1409.7 533.6L1410.3 530.8L1410.8 529.2L1411.3 543.0L1411.8 545.3L1412.4 528.9L1412.9 540.3L1413.4 529.4L1413.9 529.9L1414.5 544.0L1415.0 539.7L1415.5 518.3L1416.0 526.8L1416.6 529.3L1417.1 543.5L1417.6 539.5L1418.1 524.9L1418.7 537.6L1419.2 530.8L1419.7 537.6L1420.2 529.0L1420.8 525.6L1421.3 523.3L1421.8 528.8L1422.3 540.1L1422.9 540.7L1423.4 536.5L1423.9 537.8L1424.4 526.7L1425.0 530.0L1425.5 541.0L1426.0 542.8L1426.6 531.9L1427.1 538.6L1427.6 541.8L1428.1 543.2L1428.7 529.1L1429.2 536.3L1429.7 531.0L1430.2 532.5L1430.8 532.5L1431.3 528.8L1431.8 523.5L1432.3 538.6L1432.9 537.2L1433.4 540.1L1433.9 526.3L1434.4 528.0L1435.0 535.3L1435.5 542.2L1436.0 532.8L1436.5 527.4L1437.1 535.5L1437.6 542.9L1438.1 541.2L1438.6 541.9L1439.2 532.1L1439.7 529.2L1440.2 541.6L1440.7 540.1L1441.3 541.4L1441.8 532.2L1442.3 530.1L1442.8 529.3L1443.4 542.0L1443.9 543.1L1444.4 531.9L1444.9 542.2L1445.5 532.2L1446.0 533.5L1446.5 535.9L1447.0 528.8L1447.6 529.7L1448.1 529.7L1448.6 529.5L1449.2 534.6L1449.7 526.1L1450.0 539.8L1450.2 527.5L1450.7 532.9L1451.3 536.8L1451.8 526.5L1452.3 531.9L1452.8 534.9L1453.4 534.5L1453.9 541.3L1454.4 539.0L1454.9 525.4L1455.5 539.7L1456.0 533.8L1456.5 536.3L1457.0 525.6L1457.6 531.8L1458.1 536.2L1458.6 538.0L1459.1 538.0L1459.7 525.9L1460.2 538.3L1460.7 532.8L1461.2 534.7L1461.8 538.3L1462.3 529.2L1462.8 539.5L1463.3 538.7L1463.9 537.1L1464.4 528.4L1464.9 531.4L1465.4 524.1L1466.0 536.0L1466.5 538.7L1467.0 523.8L1467.5 535.6L1468.1 534.6L1468.6 521.2L1469.1 539.0L1469.6 530.1L1470.2 525.8L1470.7 520.8L1471.2 536.1L1471.8 527.0L1472.3 530.4L1472.8 523.9L1473.3 532.2L1473.9 541.6L1474.4 536.0L1474.9 533.1L1475.4 534.1L1476.0 524.4L1476.5 520.5L1477.0 537.0L1477.5 538.1L1478.1 532.0L1478.6 537.6L1479.1 533.1L1479.6 530.9L1480.2 527.0L1480.7 525.6L1481.2 528.3L1481.7 522.7L1482.3 526.8L1482.8 528.4L1483.3 518.6L1483.8 525.9L1484.4 523.6L1484.9 530.7L1485.4 534.3L1485.9 530.2L1486.5 531.2L1487.0 530.1L1487.5 522.8L1488.0 525.3L1488.6 534.9L1489.1 537.0L1489.6 521.4L1490.1 517.9L1490.7 537.4L1491.2 535.4L1491.7 530.3L1492.2 534.6L1492.8 530.2L1493.3 536.6L1493.8 523.1L1494.4 527.3L1494.9 531.9L1495.4 522.7L1495.9 532.9L1496.5 523.7L1497.0 532.9L1497.5 526.5L1498.0 527.0L1498.6 538.5L1499.1 531.2L1499.6 533.7L1500.1 518.6L1500.7 520.4L1501.2 532.6L1501.7 537.2L1502.2 530.7L1502.8 536.5L1503.3 518.9L1503.8 538.9L1504.3 535.5L1504.9 530.3L1505.4 526.2L1505.9 531.8L1506.4 522.2L1507.0 530.9L1507.5 531.4L1508.0 528.2L1508.5 527.8L1509.1 517.1L1509.6 521.0L1510.1 534.1L1510.6 521.3L1511.2 518.4L1511.7 522.0L1512.2 527.5L1512.7 528.9L1513.3 534.8L1513.8 534.3L1514.3 536.6L1514.8 534.8L1515.4 525.8L1515.9 519.4L1516.4 536.1L1516.9 521.0L1517.5 529.0L1518.0 521.6L1518.5 532.8L1519.1 534.5L1519.6 524.4L1520.1 520.2L1520.6 533.2L1521.2 528.2L1521.7 528.3L1522.2 521.7L1522.7 518.8L1523.3 532.7L1523.8 530.8L1524.3 530.1L1524.8 535.5L1525.4 526.5L1525.9 518.7L1526.4 527.5L1526.9 520.9L1527.5 525.5L1528.0 524.4L1528.5 526.6L1529.0 533.9L1529.6 540.1L1530.0 523.4L1530.1 531.7L1530.6 532.5L1531.1 530.7L1531.7 526.0L1532.2 533.1L1532.7 524.6L1533.2 516.6L1533.8 519.9L1534.3 527.8L1534.8 521.9L1535.3 522.7L1535.9 522.2L1536.4 517.8L1536.9 515.6L1537.4 514.6L1538.0 527.4L1538.5 520.2L1539.0 522.9L1539.5 532.7L1540.1 526.3L1540.6 530.1L1541.1 529.0L1541.7 533.0L1542.2 514.7L1542.7 521.3L1543.2 533.0L1543.8 523.0L1544.3 533.0L1544.8 517.3L1545.3 514.8L1545.9 532.1L1546.4 522.1L1546.9 524.2L1547.4 533.1L1548.0 518.3L1548.5 533.8L1549.0 522.0L1549.5 519.0L1550.1 518.7L1550.6 524.5L1551.1 523.4L1551.6 532.0L1552.2 514.7L1552.7 514.4L1553.2 517.8L1553.7 525.8L1554.3 529.3L1554.8 522.9L1555.3 525.5L1555.8 525.9L1556.4 512.8L1556.9 517.4L1557.4 532.8L1557.9 518.8L1558.5 531.4L1559.0 521.8L1559.5 516.1L1560.0 511.4L1560.6 515.8L1561.1 517.9L1561.6 520.3L1562.1 520.5L1562.7 522.6L1563.2 521.1L1563.7 512.0L1564.3 516.9L1564.8 531.4L1565.3 512.1L1565.8 526.9L1566.4 521.6L1566.9 526.5L1567.4 522.7L1567.9 519.6L1568.5 522.7L1569.0 530.9L1569.5 518.8L1570.0 513.7L1570.6 512.6L1571.1 530.1L1571.6 518.2L1572.1 514.0L1572.7 523.8L1573.2 528.9L1573.7 523.6L1574.2 514.1L1574.8 519.3L1575.3 516.3L1575.8 511.0L1576.3 530.6L1576.9 520.0L1577.4 513.2L1577.9 528.8L1578.4 530.8L1579.0 527.3L1579.5 515.6L1580.0 514.3L1580.5 521.3L1581.1 522.6L1581.6 528.8L1582.1 530.8L1582.6 529.6L1583.2 517.8L1583.7 523.0L1584.2 513.4L1584.7 519.1L1585.3 512.3L1585.8 513.1L1586.3 513.2L1586.9 516.9L1587.4 517.0L1587.9 525.1L1588.4 511.8L1589.0 512.4L1589.5 523.6L1590.0 523.8L1590.5 524.4L1591.1 524.4L1591.6 523.0L1592.1 520.5L1592.6 524.2L1593.2 510.3L1593.7 512.8L1594.2 523.7L1594.7 512.1L1595.3 519.0L1595.8 513.2L1596.3 516.7L1596.8 525.0L1597.4 521.3L1597.9 516.7L1598.4 513.1L1598.9 524.2L1599.5 521.0L1600.0 516.4L1600.5 519.5L1601.0 521.7L1601.6 500.9L1602.1 521.0L1602.6 515.5L1603.1 518.6L1603.7 521.9L1604.2 514.6L1604.7 508.9L1605.2 516.9L1605.8 519.7L1606.3 508.1L1606.8 523.4L1607.3 521.9L1607.9 526.4L1608.4 514.6L1608.9 516.5L1609.5 525.7L1610.0 515.1L1610.5 523.9L1611.0 515.1L1611.6 513.3L1612.1 511.9L1612.6 510.4L1613.1 514.8L1613.7 509.0L1614.2 522.9L1614.7 525.8L1615.2 507.3L1615.8 506.3L1616.3 505.1L1616.8 524.5L1617.3 506.4L1617.9 519.0L1618.4 511.1L1618.9 508.9L1619.4 509.9L1620.0 519.2L1620.5 505.1L1621.0 523.0L1621.5 516.8L1622.1 509.9L1622.6 509.5L1623.1 519.0L1623.6 518.6L1624.2 512.1L1624.7 512.6L1625.2 515.5L1625.7 525.0L1626.3 517.3L1626.8 523.8L1627.3 519.7L1627.8 518.1L1628.4 516.7L1628.9 520.8L1629.4 516.9L1629.9 521.9L1630.5 510.5L1631.0 513.6L1631.5 525.2L1632.1 515.2L1632.6 524.7L1633.1 526.7L1633.6 519.2L1634.2 509.2L1634.7 523.0L1635.2 521.1L1635.7 513.2L1636.3 525.3L1636.8 517.3L1637.3 508.3L1637.8 508.5L1638.4 511.9L1638.9 519.9L1639.4 524.3L1639.9 509.0L1640.5 507.5L1641.0 520.1L1641.5 515.5L1642.0 516.2L1642.6 515.0L1643.1 526.1L1643.6 527.1L1644.1 523.0L1644.7 506.5L1645.2 509.5L1645.7 518.7L1646.2 526.3L1646.8 500.1L1647.3 516.8L1647.8 514.2L1648.3 514.3L1648.9 511.2L1649.4 511.1L1649.9 510.3L1650.4 507.4L1651.0 516.8L1651.5 514.4L1652.0 519.9L1652.5 518.3L1653.1 524.8L1653.6 511.7L1654.1 523.2L1654.7 512.5L1655.2 529.2L1655.7 521.3L1656.2 512.6L1656.8 513.6L1657.3 517.4L1657.8 506.3L1658.3 518.8L1658.9 505.8L1659.4 508.5L1659.9 516.9L1660.4 524.2L1661.0 524.7L1661.5 508.9L1662.0 506.4L1662.5 514.2L1663.1 512.5L1663.6 511.1L1664.1 530.6L1664.6 517.9L1665.2 514.7L1665.7 515.9L1666.2 515.0L1666.7 517.0L1667.3 522.2L1667.8 522.6L1668.3 523.2L1668.8 520.6L1669.4 504.5L1669.9 511.8L1670.4 503.3L1670.9 508.4L1671.5 515.0L1672.0 503.2L1672.5 506.3L1673.0 510.4L1673.6 503.3L1674.1 510.8L1674.6 506.6L1675.1 520.0L1675.7 508.3L1676.2 509.6L1676.7 518.5L1677.3 499.4L1677.8 502.4L1678.3 505.9L1678.8 514.2L1679.4 505.4L1679.9 506.4L1680.4 514.3L1680.9 511.6L1681.5 506.8L1682.0 512.9L1682.5 514.5L1683.0 501.9L1683.6 506.9L1684.1 507.6L1684.6 519.8L1685.1 502.2L1685.7 514.5L1686.2 505.4L1686.7 516.1L1687.2 518.6L1687.8 502.6L1688.3 519.8L1688.8 516.3L1689.3 506.2L1689.9 521.1L1690.4 507.9L1690.9 518.5L1691.4 503.3L1692.0 511.5L1692.5 512.6L1693.0 520.9L1693.5 519.6L1694.1 513.4L1694.6 502.8L1695.1 510.8L1695.6 509.5L1696.2 522.6L1696.7 515.8L1697.2 509.7L1697.7 508.7L1698.3 517.1L1698.8 502.5L1699.3 517.7L1699.9 514.4L1700.0 509.1L1700.4 514.8L1700.9 507.8L1701.4 502.1L1702.0 507.7L1702.5 499.7L1703.0 500.3L1703.5 507.6L1704.1 515.7L1704.6 502.3L1705.1 508.6L1705.6 518.7L1706.2 515.4L1706.7 517.0L1707.2 512.1L1707.7 510.2L1708.3 510.1L1708.8 510.5L1709.3 507.6L1709.8 505.4L1710.4 502.8L1710.9 499.2L1711.4 505.7L1711.9 491.4L1712.5 509.8L1713.0 501.5L1713.5 515.5L1714.0 499.0L1714.6 518.1L1715.1 512.2L1715.6 510.2L1716.1 507.1L1716.7 516.0L1717.2 498.4L1717.7 498.6L1718.2 509.5L1718.8 504.6L1719.3 506.8L1719.8 509.7L1720.3 499.1L1720.9 519.2L1721.4 512.6L1721.9 500.0L1722.5 513.7L1723.0 509.2L1723.5 512.4L1724.0 513.4L1724.6 518.8L1725.1 499.9L1725.6 510.1L1726.1 507.4L1726.7 501.4L1727.2 505.0L1727.7 504.7L1728.2 516.1L1728.8 508.0L1729.3 498.0L1729.8 511.9L1730.3 507.1L1730.9 513.9L1731.4 497.2L1731.9 514.7L1732.4 515.2L1733.0 496.1L1733.5 506.0L1734.0 498.3L1734.5 498.5L1735.1 497.3L1735.6 514.4L1736.1 499.1L1736.6 509.5L1737.2 509.0L1737.7 501.8L1738.2 499.4L1738.7 501.5L1739.3 495.4L1739.8 499.9L1740.3 501.3L1740.8 506.8L1741.4 502.1L1741.9 496.4L1742.4 506.2L1742.9 509.5L1743.5 509.0L1744.0 504.2L1744.5 500.2L1745.1 493.7L1745.6 504.9L1746.1 506.9L1746.6 502.8L1747.2 513.9L1747.7 497.5L1748.2 510.6L1748.7 508.5L1749.3 512.4L1749.8 512.9L1750.3 498.0L1750.8 512.9L1751.4 501.7L1751.9 507.7L1752.4 513.6L1752.9 505.9L1753.5 505.7L1754.0 494.7L1754.5 506.2L1755.0 498.6L1755.6 501.8L1756.1 501.7L1756.6 514.7L1757.1 507.4L1757.7 509.4L1758.2 497.5L1758.7 500.3L1759.2 512.7L1759.8 496.3L1760.3 514.3L1760.8 506.8L1761.3 502.0L1761.9 504.6L1762.4 502.9L1762.9 503.4L1763.4 502.2L1764.0 508.1L1764.5 498.7L1765.0 496.2L1765.5 501.8L1766.1 494.1L1766.6 501.7L1767.1 502.5L1767.7 508.6L1768.2 493.8L1768.7 502.2L1769.2 508.0L1769.8 498.2L1770.3 508.8L1770.8 506.1L1771.3 491.2L1771.9 498.5L1772.4 506.7L1772.9 501.3L1773.4 504.4L1774.0 511.1L1774.5 504.2L1775.0 501.3L1775.5 507.7L1776.1 498.6L1776.6 489.4L1777.1 495.0L1777.6 502.0L1778.2 509.7L1778.7 502.2L1779.2 495.1L1779.7 510.6L1780.3 497.6L1780.8 493.9L1781.3 500.9L1781.8 496.4L1782.4 491.3L1782.9 504.4L1783.4 517.1L1783.9 510.0L1784.5 491.8L1785.0 508.6L1785.5 506.1L1786.0 494.2L1786.6 499.1L1787.1 502.3L1787.6 495.4L1788.1 490.9L1788.7 506.8L1789.2 492.1L1789.7 499.1L1790.3 497.9L1790.8 508.1L1791.3 500.5L1791.8 497.6L1792.4 509.6L1792.9 495.9L1793.4 504.1L1793.9 493.3L1794.5 504.7L1795.0 504.5L1795.5 506.1L1796.0 498.5L1796.6 492.7L1797.1 501.6L1797.6 507.6L1798.1 494.4L1798.7 488.0L1799.2 491.4L1799.7 504.7L1800.0 487.3L1800.2 488.3L1800.8 489.1L1801.3 506.4L1801.8 495.1L1802.3 501.7L1802.9 501.9L1803.4 495.9L1803.9 502.3L1804.4 496.3L1805.0 498.0L1805.5 492.8L1806.0 486.1L1806.5 499.0L1807.1 491.8L1807.6 492.0L1808.1 505.2L1808.6 493.9L1809.2 488.3L1809.7 499.9L1810.2 497.9L1810.7 487.4L1811.3 493.8L1811.8 499.6L1812.3 492.3L1812.9 507.8L1813.4 503.7L1813.9 497.2L1814.4 506.2L1815.0 486.9L1815.5 491.0L1816.0 506.1L1816.5 497.1L1817.1 489.6L1817.6 498.4L1818.1 501.8L1818.6 499.0L1819.2 486.7L1819.7 486.5L1820.2 494.6L1820.7 482.2L1821.3 487.5L1821.8 499.8L1822.3 495.3L1822.8 487.6L1823.4 505.1L1823.9 494.0L1824.4 505.4L1824.9 499.4L1825.5 499.7L1826.0 507.4L1826.5 500.9L1827.0 491.6L1827.6 491.9L1828.1 505.5L1828.6 490.7L1829.1 494.6L1829.7 502.5L1830.2 493.2L1830.7 493.9L1831.2 505.7L1831.8 490.1L1832.3 490.7L1832.8 504.7L1833.3 491.0L1833.9 492.0L1834.4 503.9L1834.9 491.3L1835.5 506.0L1836.0 501.9L1836.5 502.2L1837.0 488.3L1837.6 487.9L1838.1 499.5L1838.6 501.0L1839.1 487.5L1839.7 487.0L1840.2 487.7L1840.7 485.2L1841.2 491.4L1841.8 493.1L1842.3 495.8L1842.8 483.1L1843.3 486.1L1843.9 484.4L1844.4 487.8L1844.9 486.0L1845.4 502.5L1846.0 490.1L1846.5 485.0L1847.0 496.7L1847.5 503.5L1848.1 499.6L1848.6 496.4L1849.1 490.4L1849.6 491.0L1850.2 488.8L1850.7 499.9L1851.2 499.9L1851.7 492.9L1852.3 501.1L1852.8 496.5L1853.3 497.2L1853.8 487.9L1854.4 487.2L1854.9 486.8L1855.4 501.9L1855.9 499.3L1856.5 501.4L1857.0 499.6L1857.5 499.1L1858.1 490.8L1858.6 498.0L1859.1 484.6L1859.6 495.3L1860.2 481.6L1860.7 501.9L1861.2 499.9L1861.7 483.9L1862.3 497.2L1862.8 498.3L1863.3 480.9L1863.8 492.5L1864.4 489.2L1864.9 493.5L1865.4 499.4L1865.9 495.7L1866.5 484.4L1867.0 492.0L1867.5 492.2L1868.0 480.0L1868.6 482.8L1869.1 487.9L1869.6 484.0L1870.1 485.4L1870.7 495.3L1871.2 476.5L1871.7 490.8L1872.2 495.2L1872.8 497.9L1873.3 496.1L1873.8 496.0L1874.3 481.6L1874.9 501.1L1875.4 485.5L1875.9 486.1L1876.4 493.5L1877.0 495.3L1877.5 499.2L1878.0 489.0L1878.5 503.5L1879.1 496.5L1879.6 501.3L1880.0 494.2L1880.1 484.0L1880.7 482.6L1881.2 496.4L1881.7 491.5L1882.2 491.6L1882.8 488.9L1883.3 485.5L1883.8 478.3L1884.3 486.8L1884.9 500.8L1885.4 484.7L1885.9 502.1L1886.4 499.5L1887.0 488.7L1887.5 497.1L1888.0 492.6L1888.5 489.8L1889.1 497.3L1889.6 497.5L1890.1 483.2L1890.6 498.6L1891.2 478.8L1891.7 478.0L1892.2 488.4L1892.7 484.0L1893.3 486.5L1893.8 487.5L1894.3 487.0L1894.8 496.6L1895.4 496.6L1895.9 483.7L1896.4 482.2L1896.9 490.3L1897.5 480.0L1898.0 484.5L1898.5 491.5L1899.0 475.6L1899.6 492.7L1900.0 491.9L1900.1 477.2L1900.6 481.1L1901.1 487.5L1901.7 482.0L1902.2 493.6L1902.7 500.5L1903.3 481.9L1903.8 479.5L1904.3 478.4L1904.8 477.5L1905.4 483.6L1905.9 485.0L1906.4 494.9L1906.9 480.6L1907.5 483.1L1908.0 477.3L1908.5 481.8L1909.0 490.4L1909.6 473.6L1910.0 479.9L1910.1 474.9L1910.6 490.1L1911.1 482.3L1911.7 474.4L1912.2 471.2L1912.7 478.1L1913.2 470.5L1913.8 478.9L1914.3 484.1L1914.8 474.4L1915.3 471.0L1915.9 475.1L1916.4 470.6L1916.9 485.6L1917.4 468.7L1918.0 483.1L1918.5 473.9L1919.0 482.7L1919.5 483.5L1920.0 469.3L1920.1 483.3L1920.6 487.3L1921.1 478.5L1921.6 480.0L1922.2 472.5L1922.7 472.4L1923.2 481.4L1923.7 482.8L1924.3 468.7L1924.8 466.3L1925.3 471.3L1925.9 489.8L1926.4 470.8L1926.9 483.9L1927.4 479.6L1928.0 482.0L1928.0 474.9L1928.5 477.6L1929.0 481.1L1929.5 459.7L1930.1 471.0L1930.6 461.4L1931.1 474.2L1931.6 460.7L1932.2 471.3L1932.7 461.2L1933.0 467.9L1933.2 468.1L1933.7 472.5L1934.3 470.9L1934.8 460.3L1935.3 465.2L1935.8 453.0L1936.4 450.3L1936.9 463.4L1937.0 467.5L1937.4 463.2L1937.9 457.1L1938.5 458.7L1939.0 460.0L1939.5 455.4L1940.0 451.7L1940.6 454.0L1941.1 449.8L1941.6 452.5L1942.0 451.1L1942.1 450.6L1942.7 449.3L1943.2 448.7L1943.7 447.1L1944.2 442.3L1944.8 439.8L1945.0 441.5L1945.3 441.5L1945.8 436.4L1946.3 429.5L1946.5 428.8L1946.9 430.6L1947.4 431.4L1947.9 430.6L1948.5 425.6L1949.0 425.1L1949.5 419.5L1950.0 419.3L1950.6 417.3L1951.1 419.3L1951.3 418.6L1951.6 418.3L1952.1 408.8L1952.7 401.9L1953.2 399.8L1953.2 401.5L1953.7 399.6L1954.2 392.7L1954.8 394.9L1955.2 392.4L1955.3 391.3L1955.8 377.1L1956.3 373.8L1956.9 366.4L1957.2 362.9L1957.4 358.1L1957.9 357.0L1958.4 361.2L1959.0 356.9L1959.2 355.4L1959.5 356.0L1960.0 360.7L1960.5 360.9L1961.1 363.3L1961.3 382.8L1961.6 380.0L1962.1 391.1L1962.2 391.5L1962.6 397.3L1963.2 402.6L1963.7 406.4L1964.2 411.9L1964.6 421.1L1964.7 418.8L1965.3 423.3L1965.8 429.3L1966.3 432.8L1966.8 436.8L1967.0 437.5L1967.4 439.8L1967.9 445.9L1968.4 447.7L1968.7 449.1L1968.9 454.2L1969.5 455.2L1970.0 455.8L1970.5 453.5L1971.1 454.1L1971.6 461.5L1972.0 462.8L1972.1 454.4L1972.6 463.2L1973.2 450.1L1973.7 459.4L1974.2 467.1L1974.7 445.1L1975.3 470.9L1975.8 474.1L1976.3 457.2L1976.8 470.4L1977.4 464.1L1977.9 460.2L1978.0 464.4L1978.4 467.8L1978.9 477.6L1979.5 475.1L1980.0 458.2L1980.5 459.8L1981.0 481.5L1981.6 472.0L1982.1 473.6L1982.6 468.1L1983.1 479.3L1983.7 473.4L1984.2 474.6L1984.7 468.3L1985.2 479.4L1985.8 467.0L1986.3 465.5L1986.8 476.3L1987.3 481.9L1987.9 469.9L1988.0 470.2L1988.4 466.7L1988.9 486.9L1989.4 474.2L1990.0 468.7L1990.5 475.4L1991.0 475.4L1991.5 465.6L1992.1 475.2L1992.6 469.3L1993.1 467.6L1993.7 485.5L1994.2 465.2L1994.7 471.0L1995.2 477.3L1995.8 472.5L1996.3 463.7L1996.8 483.2L1997.3 469.0L1997.9 473.1L1998.4 484.5L1998.9 486.1L1999.4 485.0L2000.0 473.7L2000.0 481.4L2000.5 483.9L2001.0 469.1L2001.5 486.8L2002.1 467.1L2002.6 479.8L2003.1 470.3L2003.6 469.8L2004.2 467.9L2004.7 486.5L2005.2 468.0L2005.7 485.9L2006.3 468.8L2006.8 472.5L2007.3 469.8L2007.8 487.5L2008.4 467.0L2008.9 484.5L2009.4 471.6L2009.9 486.5L2010.5 481.8L2011.0 470.6L2011.5 476.1L2012.0 468.1L2012.6 473.6L2013.1 464.9L2013.6 479.8L2014.1 477.7L2014.7 470.2L2015.2 464.3L2015.7 485.3L2016.3 466.6L2016.8 471.2L2017.3 464.1L2017.8 472.2L2018.4 472.5L2018.9 475.4L2019.4 470.4L2019.9 468.6L2020.5 480.7L2021.0 468.9L2021.5 470.0L2022.0 473.4L2022.6 468.3L2023.1 478.5L2023.6 463.6L2024.1 462.1L2024.7 471.0L2025.2 467.1L2025.7 480.3L2026.2 469.1L2026.8 470.6L2027.3 471.6L2027.8 479.8L2028.3 465.8L2028.9 479.8L2029.4 482.5L2029.9 466.9L2030.4 464.8L2031.0 479.0L2031.5 468.2L2032.0 466.3L2032.5 462.9L2033.1 475.3L2033.6 482.8L2034.1 481.6L2034.6 475.0L2035.2 471.6L2035.7 483.9L2036.2 476.7L2036.7 483.5L2037.3 477.4L2037.8 477.5L2038.3 477.6L2038.9 464.3L2039.4 467.1L2039.9 462.7L2040.4 482.5L2041.0 483.8L2041.5 474.7L2042.0 464.1L2042.5 463.2" stroke="#000" stroke-width="9.4"/><path d="M197.5 960.3L198.0 966.1L198.6 968.1L199.1 969.2L199.6 966.3L200.1 960.0L200.7 968.4L201.2 963.5L201.7 963.5L202.2 967.5L202.8 957.2L203.3 965.2L203.8 965.5L204.3 964.3L204.9 958.6L205.4 966.8L205.9 958.9L206.4 963.4L207.0 965.5L207.5 966.3L208.0 963.9L208.5 960.9L209.1 965.1L209.6 961.4L210.1 957.6L210.6 959.1L211.0 962.0L211.2 963.1L211.7 958.2L212.2 956.7L212.7 963.4L213.3 957.8L213.8 957.0L214.3 957.4L214.8 956.6L215.4 955.3L215.9 958.1L216.4 955.6L216.9 960.8L217.5 954.4L218.0 957.2L218.5 963.9L219.0 958.1L219.6 962.9L220.1 955.1L220.6 961.4L221.2 953.1L221.7 963.0L222.0 963.0L222.2 959.7L222.7 953.9L223.3 954.0L223.8 960.5L224.3 958.6L224.8 959.8L225.4 953.6L225.9 958.8L226.4 952.9L226.9 955.9L227.5 954.5L228.0 952.2L228.5 952.5L229.0 950.2L229.6 949.9L230.1 956.2L230.6 954.4L231.1 950.0L231.7 949.5L232.2 953.5L232.7 952.5L233.2 951.3L233.8 951.2L234.3 950.8L234.8 955.5L235.3 959.4L235.9 951.6L236.4 952.6L236.9 956.1L237.4 951.6L238.0 949.5L238.5 955.5L239.0 952.1L239.5 948.1L240.1 951.9L240.6 958.3L241.1 948.8L241.6 958.5L242.2 955.4L242.7 958.0L243.2 954.9L243.8 956.7L244.3 958.8L244.8 950.6L245.3 949.9L245.9 955.4L246.4 954.4L246.9 954.9L247.4 953.1L248.0 960.4L248.5 956.1L249.0 956.2L249.5 949.5L250.1 952.4L250.6 952.5L251.1 960.7L251.6 950.8L252.2 955.0L252.7 957.6L253.2 956.2L253.7 957.8L254.3 953.0L254.8 950.6L255.3 951.2L255.8 954.8L256.4 954.3L256.9 952.8L257.4 958.6L257.9 952.4L258.5 950.0L259.0 954.3L259.5 953.8L260.0 955.9L260.6 953.1L261.1 946.5L261.6 951.8L262.1 948.1L262.7 948.5L263.2 954.5L263.7 956.5L264.2 955.3L264.8 947.7L265.3 949.7L265.8 954.6L266.4 954.2L266.9 945.0L267.4 947.4L267.9 950.9L268.5 946.2L269.0 944.0L269.5 946.2L270.0 945.8L270.6 951.7L271.1 951.8L271.6 949.7L272.1 949.9L272.7 948.9L273.2 951.9L273.7 950.1L274.2 950.3L274.8 952.7L275.3 943.4L275.8 942.3L276.3 947.8L276.9 946.7L277.4 951.8L277.9 944.7L278.4 948.8L279.0 948.9L279.5 943.4L280.0 940.6L280.5 945.2L281.1 942.6L281.6 942.3L282.1 945.3L282.6 941.9L283.2 946.3L283.7 946.8L284.2 954.7L284.7 946.1L285.3 941.8L285.8 946.1L286.3 949.3L286.8 949.1L287.4 940.5L287.9 943.0L288.4 947.5L289.0 946.0L289.5 943.6L290.0 948.8L290.5 949.5L291.1 945.6L291.6 942.0L292.1 950.2L292.6 944.6L293.2 943.1L293.7 940.5L294.2 950.0L294.7 947.0L295.3 939.8L295.8 951.7L296.3 949.7L296.8 939.8L297.4 946.8L297.9 945.5L298.4 944.7L298.9 946.8L299.5 942.7L300.0 946.0L300.0 948.9L300.5 945.4L301.0 944.8L301.6 945.8L302.1 940.8L302.6 942.5L303.1 946.9L303.7 945.1L304.2 939.9L304.7 948.6L305.2 943.2L305.8 941.3L306.3 940.1L306.8 949.1L307.3 946.8L307.9 941.9L308.4 940.5L308.9 948.1L309.4 939.9L310.0 944.2L310.5 945.9L311.0 948.9L311.6 945.9L312.1 939.1L312.6 943.8L313.1 948.3L313.7 940.8L314.2 938.5L314.7 938.1L315.2 947.0L315.8 948.0L316.3 942.4L316.8 940.4L317.3 941.4L317.9 938.7L318.4 941.5L318.9 941.8L319.4 942.4L320.0 937.3L320.5 947.2L321.0 943.1L321.5 942.4L322.1 945.2L322.6 936.1L323.1 942.2L323.6 939.7L324.2 942.7L324.7 946.1L325.2 942.5L325.7 937.2L326.3 939.2L326.8 941.3L327.3 944.7L327.8 943.5L328.4 941.4L328.9 937.2L329.4 940.8L329.9 933.0L330.5 936.2L331.0 945.4L331.5 944.5L332.0 941.8L332.6 937.5L333.1 941.2L333.6 938.2L334.2 941.9L334.7 934.7L335.2 941.2L335.7 940.6L336.3 944.7L336.8 940.5L337.3 932.4L337.8 936.3L338.4 943.4L338.9 937.3L339.4 944.9L339.9 944.5L340.5 936.2L341.0 940.5L341.5 934.1L342.0 939.6L342.6 944.6L343.1 934.8L343.6 941.6L344.1 939.1L344.7 944.6L345.2 937.8L345.7 937.9L346.2 939.9L346.8 942.2L347.3 942.8L347.8 940.3L348.3 936.8L348.9 939.6L349.4 940.2L349.9 942.1L350.4 939.8L351.0 937.7L351.5 933.3L352.0 933.6L352.5 939.7L353.1 936.8L353.6 940.0L354.1 928.7L354.6 936.7L355.2 934.4L355.7 941.9L356.2 935.2L356.8 939.4L357.3 929.2L357.8 943.4L358.3 934.0L358.9 938.1L359.4 941.8L359.9 935.1L360.4 939.9L361.0 937.2L361.5 943.7L362.0 934.1L362.5 934.8L363.1 939.0L363.6 940.6L364.1 939.4L364.6 939.1L365.2 938.4L365.7 933.5L366.2 940.5L366.7 936.5L367.3 943.8L367.8 937.2L368.3 933.1L368.8 932.6L369.4 936.2L369.9 935.4L370.4 943.3L370.9 941.2L371.5 936.3L372.0 935.0L372.5 932.6L373.0 933.1L373.6 940.2L374.1 932.0L374.6 940.3L375.1 935.6L375.7 938.8L376.2 937.8L376.7 931.7L377.2 939.1L377.8 940.3L378.3 931.1L378.8 940.9L379.4 938.8L379.9 936.2L380.4 937.1L380.9 929.3L381.5 931.2L382.0 938.9L382.5 938.2L383.0 930.5L383.6 934.1L384.1 931.6L384.6 932.0L385.1 936.3L385.7 935.0L386.2 927.8L386.7 934.6L387.2 926.9L387.8 927.8L388.3 931.5L388.8 927.0L389.3 932.6L389.9 934.5L390.4 929.6L390.9 934.7L391.4 927.5L392.0 927.7L392.5 932.5L393.0 927.1L393.5 935.7L394.1 937.3L394.6 927.1L395.1 936.3L395.6 933.7L396.2 938.4L396.7 936.4L397.2 937.7L397.7 937.1L398.3 937.1L398.8 936.0L399.3 937.8L399.8 928.2L400.0 936.6L400.4 925.3L400.9 931.5L401.4 932.4L402.0 928.6L402.5 930.9L403.0 935.5L403.5 933.6L404.1 938.0L404.6 930.1L405.1 929.8L405.6 935.7L406.2 938.2L406.7 931.4L407.2 931.7L407.7 927.7L408.3 929.8L408.8 937.6L409.3 938.4L409.8 932.7L410.4 937.0L410.9 929.6L411.4 934.6L411.9 937.6L412.5 931.1L413.0 934.4L413.5 935.6L414.0 928.6L414.6 930.0L415.1 933.8L415.6 929.9L416.1 928.8L416.7 928.8L417.2 936.0L417.7 932.2L418.2 933.3L418.8 934.2L419.3 930.6L419.8 934.5L420.3 932.1L420.9 927.9L421.4 932.9L421.9 932.6L422.4 934.7L423.0 937.8L423.5 927.2L424.0 933.8L424.6 934.7L425.1 932.1L425.6 931.5L426.1 934.6L426.7 932.6L427.2 931.1L427.7 933.8L428.2 933.2L428.8 927.1L429.3 930.2L429.8 936.4L430.3 927.8L430.9 927.1L431.4 933.3L431.9 927.4L432.4 928.3L433.0 929.8L433.5 933.0L434.0 927.6L434.5 935.0L435.1 934.1L435.6 935.6L436.1 929.1L436.6 932.6L437.2 936.3L437.7 931.4L438.2 933.0L438.7 936.6L439.3 934.9L439.8 933.5L440.3 929.4L440.8 937.3L441.4 934.9L441.9 932.4L442.4 928.5L442.9 931.4L443.5 936.2L444.0 936.4L444.5 926.2L445.0 932.3L445.6 924.5L446.1 925.2L446.6 928.0L447.2 924.6L447.7 930.8L448.2 928.8L448.7 927.3L449.3 932.5L449.8 926.5L450.3 925.1L450.8 925.4L451.4 922.3L451.9 930.3L452.4 931.0L452.9 926.6L453.5 931.3L454.0 925.6L454.5 924.3L455.0 922.2L455.6 923.9L456.1 927.1L456.6 925.8L457.1 927.2L457.7 937.2L458.2 922.5L458.7 930.1L459.2 927.1L459.8 931.5L460.3 932.3L460.8 926.7L461.3 927.9L461.9 931.6L462.4 924.3L462.9 932.2L463.4 927.2L464.0 925.9L464.5 928.5L465.0 930.7L465.5 933.0L466.1 933.0L466.6 924.0L467.1 925.6L467.6 927.7L468.2 931.6L468.7 929.2L469.2 929.3L469.8 930.3L470.3 928.3L470.8 927.1L471.3 931.2L471.9 925.1L472.4 924.9L472.9 933.1L473.4 931.0L474.0 926.3L474.5 927.3L475.0 931.1L475.5 927.1L476.1 932.0L476.6 931.7L477.1 928.9L477.6 934.9L478.2 932.9L478.7 925.7L479.2 926.7L479.7 925.3L480.3 932.3L480.8 926.2L481.3 929.2L481.8 925.1L482.4 934.1L482.9 932.6L483.4 931.7L483.9 932.1L484.5 928.2L485.0 926.1L485.5 924.1L486.0 928.7L486.6 934.4L487.1 924.2L487.6 926.1L488.1 929.9L488.7 924.6L489.2 927.2L489.7 932.5L490.2 926.2L490.8 927.2L491.3 926.9L491.8 926.0L492.4 933.0L492.9 934.6L493.4 930.5L493.9 926.6L494.5 926.4L495.0 931.6L495.5 931.9L496.0 933.0L496.6 925.1L497.1 925.8L497.6 927.4L498.1 928.4L498.7 932.8L499.2 924.3L499.7 925.5L500.0 924.5L500.2 932.4L500.8 931.2L501.3 932.1L501.8 926.3L502.3 928.6L502.9 932.6L503.4 922.3L503.9 931.2L504.4 930.6L505.0 926.6L505.5 930.4L506.0 930.0L506.5 923.1L507.1 932.1L507.6 931.6L508.1 923.5L508.6 931.5L509.2 926.7L509.7 933.1L510.2 929.1L510.7 930.7L511.3 923.0L511.8 921.4L512.3 929.7L512.8 925.1L513.4 926.3L513.9 925.5L514.4 930.1L515.0 926.6L515.5 928.2L516.0 929.0L516.5 920.2L517.1 926.7L517.6 927.3L518.1 921.6L518.6 922.4L519.2 921.3L519.7 925.4L520.2 929.6L520.7 923.5L521.3 930.8L521.8 921.5L522.3 924.7L522.8 923.4L523.4 918.1L523.9 922.6L524.4 930.5L524.9 926.5L525.5 923.5L526.0 925.1L526.5 921.7L527.0 927.0L527.6 919.2L528.1 924.8L528.6 928.7L529.1 928.2L529.7 926.9L530.2 927.7L530.7 923.7L531.2 920.4L531.8 924.5L532.3 923.6L532.8 923.8L533.3 926.0L533.9 923.0L534.4 925.6L534.9 919.9L535.4 920.3L536.0 918.6L536.5 928.0L537.0 925.5L537.6 921.1L538.1 918.1L538.6 921.4L539.1 926.6L539.7 928.0L540.2 919.6L540.7 928.4L541.2 920.1L541.8 918.2L542.3 919.4L542.8 918.1L543.3 915.2L543.9 926.9L544.4 923.6L544.9 927.2L545.4 919.1L546.0 926.7L546.5 919.5L547.0 921.7L547.5 928.7L548.1 929.2L548.6 926.2L549.1 925.1L549.6 921.8L550.0 924.8L550.2 922.4L550.7 926.5L551.2 925.1L551.7 927.6L552.3 927.0L552.8 927.0L553.3 918.3L553.8 917.5L554.4 921.8L554.9 928.3L555.4 924.5L555.9 924.3L556.5 927.2L557.0 925.1L557.5 919.2L558.0 923.5L558.6 928.1L559.1 927.5L559.6 919.0L560.2 929.9L560.7 920.6L561.2 921.8L561.7 923.5L562.3 929.5L562.8 929.0L563.3 922.7L563.8 926.0L564.4 919.4L564.9 927.8L565.4 919.4L565.9 926.8L566.5 922.1L567.0 920.2L567.5 920.0L568.0 929.6L568.6 920.8L569.1 923.6L569.6 919.9L570.1 923.7L570.7 927.5L571.2 926.8L571.7 926.2L572.2 922.0L572.8 919.3L573.3 927.2L573.8 921.8L574.3 925.3L574.9 928.9L575.4 926.3L575.9 921.8L576.4 925.1L577.0 926.8L577.5 920.6L578.0 929.3L578.5 920.9L579.1 918.8L579.6 924.6L580.1 924.0L580.6 920.4L581.2 924.3L581.7 921.9L582.2 928.3L582.8 924.6L583.3 925.1L583.8 920.7L584.3 930.1L584.9 922.1L585.4 926.0L585.9 928.2L586.4 925.2L587.0 922.9L587.5 926.6L588.0 927.4L588.5 920.6L589.1 921.9L589.6 920.9L590.1 919.0L590.6 925.8L591.2 930.0L591.7 921.4L592.2 929.0L592.7 922.4L593.3 928.4L593.8 918.7L594.3 921.4L594.8 927.1L595.4 927.7L595.9 926.3L596.4 924.8L596.9 920.3L597.5 928.0L598.0 923.1L598.5 925.8L599.0 920.8L599.6 926.9L600.1 923.1L600.6 924.0L601.1 917.2L601.7 920.2L602.2 916.3L602.7 919.1L603.2 921.4L603.8 918.0L604.3 914.5L604.8 918.5L605.4 922.8L605.9 919.7L606.4 922.7L606.9 918.1L607.5 919.8L608.0 916.8L608.5 914.2L609.0 922.2L609.6 919.0L610.1 922.3L610.6 922.2L611.1 922.1L611.7 917.5L612.2 916.5L612.7 915.8L613.2 918.7L613.8 920.4L614.3 923.5L614.8 925.1L615.3 922.1L615.9 910.3L616.4 917.2L616.9 920.8L617.4 917.4L618.0 924.3L618.5 916.9L619.0 919.1L619.5 917.0L620.1 917.0L620.6 923.4L621.1 916.9L621.6 918.3L622.2 915.1L622.7 925.1L623.2 925.0L623.7 918.9L624.3 925.2L624.8 917.2L625.3 917.4L625.8 920.9L626.4 916.9L626.9 924.9L627.4 925.6L628.0 915.7L628.5 913.6L629.0 919.1L629.5 925.5L630.1 925.4L630.6 914.6L631.1 924.9L631.6 921.3L632.2 919.2L632.7 918.7L633.2 923.4L633.7 914.9L634.3 918.0L634.8 914.4L635.3 917.8L635.8 922.4L636.4 916.0L636.9 914.6L637.4 915.8L637.9 920.9L638.5 914.7L639.0 913.2L639.5 922.6L640.0 912.8L640.6 922.7L641.1 919.3L641.6 916.8L642.1 915.6L642.7 916.5L643.2 922.3L643.7 918.5L644.2 913.3L644.8 918.0L645.3 915.0L645.8 921.7L646.3 913.0L646.9 916.8L647.4 911.3L647.9 914.0L648.4 919.1L649.0 917.9L649.5 921.4L650.0 912.6L650.0 916.2L650.5 911.9L651.1 918.8L651.6 912.0L652.1 921.5L652.7 916.4L653.2 917.0L653.7 915.0L654.2 915.4L654.8 920.9L655.3 919.5L655.8 915.2L656.3 920.1L656.9 915.0L657.4 911.5L657.9 913.1L658.4 915.3L659.0 915.5L659.5 912.3L660.0 918.4L660.5 913.0L661.1 917.7L661.6 916.3L662.1 925.3L662.6 920.6L663.2 918.5L663.7 917.5L664.2 918.4L664.7 916.6L665.3 922.2L665.8 920.3L666.3 921.5L666.8 913.0L667.4 916.4L667.9 922.2L668.4 913.4L668.9 914.7L669.5 923.7L670.0 920.9L670.5 918.7L671.0 914.4L671.6 922.6L672.1 916.5L672.6 915.0L673.1 923.1L673.7 918.9L674.2 918.9L674.7 920.2L675.3 918.8L675.8 915.9L676.3 921.7L676.8 921.8L677.4 923.8L677.9 918.9L678.4 914.8L678.9 913.0L679.5 913.4L680.0 915.1L680.5 921.5L681.0 923.3L681.6 924.2L682.1 920.1L682.6 924.1L683.1 913.5L683.7 921.5L684.2 920.4L684.7 914.2L685.2 921.4L685.8 925.5L686.3 914.6L686.8 919.2L687.3 916.9L687.9 919.0L688.4 913.0L688.9 921.9L689.4 914.7L690.0 918.5L690.5 913.6L691.0 912.7L691.5 921.6L692.1 913.3L692.6 921.2L693.1 920.0L693.6 920.0L694.2 916.2L694.7 910.0L695.2 918.5L695.7 917.4L696.3 916.2L696.8 918.8L697.3 914.8L697.9 913.7L698.4 917.9L698.9 915.0L699.4 924.3L700.0 911.0L700.5 911.5L701.0 911.3L701.5 918.5L702.1 920.7L702.6 920.4L703.1 915.5L703.6 918.2L704.2 910.5L704.7 912.9L705.2 920.0L705.7 912.6L706.3 911.0L706.8 914.2L707.3 918.1L707.8 920.7L708.4 909.7L708.9 916.8L709.4 919.3L709.9 919.1L710.5 920.4L711.0 917.4L711.5 919.8L712.0 914.8L712.6 917.0L713.1 916.7L713.6 915.5L714.1 915.6L714.7 918.7L715.2 912.3L715.7 920.2L716.2 918.8L716.8 912.9L717.3 914.5L717.8 920.2L718.3 915.3L718.9 920.1L719.4 914.8L719.9 921.6L720.5 914.5L721.0 921.3L721.5 914.2L722.0 914.5L722.6 911.6L723.1 918.6L723.6 910.4L724.1 918.5L724.7 915.2L725.2 919.5L725.7 916.7L726.2 907.5L726.8 915.6L727.3 912.4L727.8 920.6L728.3 920.3L728.9 919.8L729.4 917.2L729.9 913.4L730.4 910.7L731.0 910.1L731.5 918.4L732.0 916.0L732.5 916.9L733.1 920.1L733.6 913.7L734.1 911.3L734.6 915.3L735.2 922.5L735.7 913.4L736.2 922.2L736.7 911.1L737.3 918.5L737.8 916.7L738.3 916.1L738.8 910.2L739.4 916.6L739.9 917.0L740.4 909.8L740.9 919.1L741.5 918.7L742.0 909.8L742.5 919.1L743.1 914.8L743.6 914.7L744.1 919.0L744.6 917.0L745.2 912.9L745.7 913.8L746.2 913.5L746.7 918.5L747.3 907.9L747.8 913.7L748.3 912.9L748.8 908.6L749.4 914.8L749.9 915.2L750.0 908.0L750.4 907.7L750.9 912.0L751.5 917.3L752.0 915.7L752.5 913.7L753.0 914.0L753.6 916.8L754.1 911.1L754.6 915.8L755.1 912.4L755.7 906.4L756.2 915.3L756.7 911.0L757.2 913.7L757.8 914.9L758.3 914.1L758.8 914.1L759.3 914.0L759.9 909.3L760.4 905.1L760.9 907.6L761.4 912.2L762.0 908.3L762.5 916.1L763.0 906.5L763.5 912.8L764.1 906.1L764.6 909.9L765.1 914.0L765.7 915.3L766.2 905.6L766.7 914.2L767.2 916.1L767.8 905.3L768.3 914.5L768.8 907.0L769.3 913.1L769.9 916.7L770.4 906.3L770.9 914.0L771.4 906.7L772.0 912.2L772.5 909.5L773.0 912.0L773.5 914.3L774.1 907.8L774.6 909.0L775.1 906.9L775.6 918.2L776.2 906.5L776.7 905.9L777.2 914.1L777.7 913.8L778.3 909.4L778.8 913.3L779.3 913.6L779.8 909.8L780.4 909.3L780.9 908.6L781.4 906.9L781.9 907.5L782.5 912.4L783.0 910.8L783.5 912.0L784.0 914.9L784.6 908.6L785.1 909.6L785.6 911.5L786.1 909.6L786.7 913.7L787.2 907.3L787.7 916.2L788.3 916.4L788.8 906.8L789.3 910.8L789.8 909.1L790.4 908.9L790.9 907.2L791.4 911.0L791.9 914.0L792.5 907.3L793.0 913.6L793.5 913.1L794.0 911.7L794.6 914.7L795.1 911.4L795.6 913.7L796.1 915.5L796.7 914.3L797.2 911.1L797.7 907.8L798.2 911.8L798.8 912.8L799.3 912.8L799.8 909.1L800.3 913.1L800.9 908.3L801.4 905.9L801.9 915.4L802.4 914.9L803.0 909.1L803.5 910.5L804.0 904.2L804.5 915.0L805.1 907.9L805.6 907.4L806.1 905.1L806.6 905.0L807.2 910.1L807.7 910.9L808.2 914.3L808.7 911.0L809.3 909.8L809.8 909.6L810.3 905.6L810.9 906.6L811.4 909.5L811.9 903.7L812.4 905.6L813.0 904.0L813.5 902.4L814.0 907.2L814.5 906.3L815.1 908.5L815.6 906.6L816.1 902.8L816.6 912.0L817.2 902.5L817.7 902.3L818.2 902.4L818.7 911.3L819.3 906.4L819.8 913.1L820.3 905.8L820.8 906.9L821.4 910.3L821.9 913.1L822.4 912.7L822.9 906.4L823.5 909.9L824.0 902.7L824.5 908.6L825.0 909.5L825.6 905.2L826.1 909.6L826.6 905.5L827.1 910.9L827.7 902.8L828.2 908.1L828.7 913.1L829.2 909.4L829.8 913.0L830.3 913.2L830.8 911.1L831.3 911.6L831.9 910.9L832.4 908.3L832.9 911.6L833.5 911.6L834.0 912.4L834.5 908.9L835.0 902.9L835.6 907.8L836.1 910.7L836.6 907.2L837.1 906.7L837.7 902.5L838.2 909.3L838.7 913.2L839.2 909.2L839.8 904.9L840.3 909.4L840.8 906.2L841.3 906.1L841.9 902.5L842.4 910.1L842.9 901.8L843.4 911.2L844.0 912.8L844.5 910.8L845.0 905.9L845.5 905.9L846.1 902.8L846.6 904.1L847.1 904.4L847.6 910.3L848.2 912.6L848.7 903.8L849.2 900.9L849.7 913.7L850.0 910.3L850.3 913.1L850.8 907.0L851.3 911.5L851.8 917.6L852.4 911.2L852.9 908.2L853.4 906.0L853.9 906.9L854.5 904.3L855.0 903.5L855.5 907.0L856.1 912.5L856.6 906.3L857.1 908.9L857.6 911.9L858.2 903.5L858.7 906.5L859.2 906.4L859.7 910.2L860.3 912.4L860.8 901.8L861.3 907.9L861.8 901.5L862.4 903.1L862.9 905.8L863.4 897.8L863.9 905.7L864.5 905.0L865.0 906.4L865.5 903.4L866.0 904.9L866.6 902.8L867.1 905.0L867.6 908.3L868.1 900.3L868.7 911.5L869.2 901.5L869.7 909.0L870.2 896.2L870.8 900.5L871.3 908.8L871.8 906.2L872.3 902.6L872.9 903.9L873.4 909.5L873.9 907.6L874.4 902.6L875.0 902.0L875.5 905.7L876.0 900.5L876.5 901.6L877.1 908.2L877.6 907.1L878.1 898.8L878.7 903.6L879.2 902.8L879.7 906.6L880.2 902.8L880.8 900.4L881.3 907.4L881.8 899.7L882.3 904.9L882.9 900.5L883.4 904.4L883.9 899.1L884.4 907.2L885.0 901.3L885.5 904.9L886.0 905.7L886.5 902.5L887.1 903.4L887.6 898.6L888.1 903.5L888.6 903.5L889.2 907.8L889.7 901.6L890.2 899.4L890.7 902.5L891.3 907.0L891.8 898.1L892.3 898.5L892.8 909.8L893.4 904.8L893.9 906.8L894.4 904.0L894.9 900.9L895.5 906.5L896.0 901.6L896.5 904.2L897.0 901.4L897.6 909.6L898.1 903.7L898.6 907.2L899.1 901.4L899.7 904.8L900.2 902.8L900.7 900.7L901.3 903.1L901.8 900.2L902.3 906.5L902.8 906.0L903.4 909.5L903.9 899.9L904.4 904.4L904.9 911.1L905.5 903.7L906.0 900.4L906.5 909.1L907.0 900.9L907.6 908.1L908.1 905.9L908.6 910.0L909.1 905.7L909.7 907.6L910.2 902.7L910.7 911.0L911.2 902.0L911.8 909.2L912.3 907.2L912.8 904.8L913.3 903.4L913.9 899.9L914.4 907.9L914.9 901.1L915.4 908.4L916.0 908.4L916.5 900.4L917.0 901.1L917.5 905.8L918.1 906.2L918.6 897.7L919.1 906.5L919.6 906.2L920.0 903.9L920.2 906.9L920.7 907.7L921.2 898.6L921.7 907.1L922.3 906.0L922.8 902.7L923.3 897.1L923.9 906.9L924.4 904.3L924.9 899.9L925.4 899.2L926.0 906.4L926.5 898.0L927.0 904.7L927.5 900.3L928.1 903.1L928.6 904.4L929.1 895.9L929.6 897.6L930.2 895.8L930.7 899.0L931.2 895.8L931.7 904.6L932.3 902.9L932.8 900.3L933.3 895.6L933.8 895.6L934.4 899.9L934.9 903.4L935.4 903.5L935.9 903.3L936.5 896.1L937.0 900.3L937.5 898.1L938.0 898.4L938.6 899.7L939.1 895.1L939.6 894.8L940.1 896.4L940.7 894.2L941.2 901.5L941.7 895.7L942.2 891.9L942.8 893.5L943.3 903.0L943.8 897.9L944.3 894.9L944.9 902.2L945.4 899.1L945.9 899.0L946.5 897.3L947.0 900.9L947.5 899.9L948.0 898.5L948.6 896.1L949.1 901.4L949.6 903.0L950.0 893.5L950.1 892.9L950.7 893.7L951.2 902.7L951.7 899.7L952.2 897.1L952.8 888.9L953.3 903.2L953.8 897.0L954.3 896.2L954.9 897.9L955.4 898.3L955.9 900.9L956.4 901.0L957.0 893.7L957.5 899.9L958.0 890.4L958.5 891.4L959.1 893.2L959.6 888.5L960.1 890.8L960.6 886.1L961.2 894.0L961.7 891.3L962.2 885.0L962.7 886.5L963.3 883.4L963.8 886.9L964.3 879.6L964.8 878.3L965.4 884.6L965.9 885.0L966.4 885.4L966.9 879.3L967.5 880.3L968.0 891.9L968.5 893.4L969.1 885.5L969.6 889.5L970.1 889.8L970.6 888.3L971.2 886.3L971.7 888.7L972.2 897.2L972.7 891.5L973.3 889.0L973.8 887.7L974.3 894.5L974.8 896.9L975.4 890.2L975.9 896.1L976.4 887.7L976.9 889.0L977.5 895.0L978.0 888.6L978.5 892.9L979.0 893.1L979.6 887.7L980.1 887.6L980.6 895.8L981.1 896.2L981.7 894.5L982.2 890.0L982.7 894.6L983.2 892.9L983.8 893.3L984.3 894.6L984.8 889.0L985.3 896.0L985.9 890.5L986.4 888.6L986.9 890.9L987.4 895.9L988.0 892.6L988.5 885.4L989.0 887.3L989.5 891.8L990.1 895.0L990.6 890.1L991.1 890.0L991.7 883.6L992.2 885.3L992.7 892.8L993.2 886.2L993.8 889.6L994.3 891.2L994.8 890.1L995.3 882.7L995.9 890.6L996.4 886.6L996.9 889.7L997.4 890.9L998.0 883.5L998.5 893.8L999.0 889.7L999.5 893.8L1000.0 892.3L1000.1 882.7L1000.6 883.1L1001.1 892.0L1001.6 893.4L1002.2 892.4L1002.7 893.1L1003.2 890.5L1003.7 888.7L1004.3 886.4L1004.8 891.8L1005.3 888.4L1005.8 882.1L1006.4 889.4L1006.9 884.7L1007.4 887.9L1007.9 884.9L1008.5 890.6L1009.0 889.2L1009.5 884.9L1010.0 890.0L1010.6 886.8L1011.1 884.2L1011.6 881.4L1012.1 888.1L1012.7 883.0L1013.2 886.0L1013.7 882.9L1014.3 887.5L1014.8 880.8L1015.3 883.4L1015.8 887.5L1016.4 886.0L1016.9 888.9L1017.4 883.8L1017.9 885.2L1018.5 886.5L1019.0 891.8L1019.5 882.8L1020.0 890.1L1020.6 882.2L1021.1 890.9L1021.6 882.3L1022.1 885.6L1022.7 885.5L1023.2 889.0L1023.7 884.9L1024.2 890.6L1024.8 892.7L1025.3 889.5L1025.8 881.2L1026.3 881.9L1026.9 890.2L1027.4 885.4L1027.9 886.5L1028.4 878.5L1029.0 888.5L1029.5 884.6L1030.0 883.1L1030.5 880.2L1031.1 880.3L1031.6 879.3L1032.1 883.2L1032.6 889.4L1033.2 879.1L1033.7 887.3L1034.2 884.5L1034.7 888.0L1035.3 888.4L1035.8 884.0L1036.3 882.8L1036.9 884.0L1037.4 880.4L1037.9 884.3L1038.4 884.7L1039.0 876.9L1039.5 880.4L1040.0 877.6L1040.0 875.3L1040.5 878.7L1041.1 880.7L1041.6 879.5L1042.1 877.7L1042.6 879.5L1043.2 878.7L1043.7 872.7L1044.2 880.5L1044.7 878.8L1045.3 877.2L1045.8 879.2L1046.3 873.9L1046.8 879.4L1047.4 875.6L1047.9 877.4L1048.4 877.3L1048.9 873.8L1049.5 870.4L1050.0 879.0L1050.5 877.3L1051.0 871.6L1051.6 871.4L1052.1 877.0L1052.6 876.0L1053.1 870.5L1053.7 877.5L1054.2 872.0L1054.7 878.7L1055.2 870.3L1055.8 881.1L1056.3 874.5L1056.8 881.8L1057.3 874.1L1057.9 876.0L1058.4 874.9L1058.9 879.4L1059.5 875.6L1060.0 881.0L1060.5 881.2L1061.0 882.5L1061.6 878.8L1062.1 878.6L1062.6 876.5L1063.1 879.4L1063.7 879.9L1064.2 876.8L1064.7 880.2L1065.2 875.4L1065.8 878.4L1066.3 877.2L1066.8 879.7L1067.3 882.5L1067.9 873.2L1068.4 878.1L1068.9 873.8L1069.4 876.8L1070.0 881.3L1070.5 879.9L1071.0 880.7L1071.5 881.7L1072.1 875.6L1072.6 875.8L1073.1 873.3L1073.6 874.7L1074.2 878.1L1074.7 878.5L1075.0 878.7L1075.2 876.3L1075.7 870.0L1076.3 877.1L1076.8 879.4L1077.3 881.3L1077.8 868.7L1078.4 872.9L1078.9 874.2L1079.4 875.7L1079.9 877.7L1080.5 868.0L1081.0 878.8L1081.5 872.9L1082.0 879.5L1082.1 877.3L1082.6 872.3L1083.1 879.2L1083.6 873.0L1084.2 868.5L1084.7 869.6L1085.2 873.8L1085.7 876.5L1086.3 870.9L1086.8 878.7L1087.3 870.1L1087.8 879.2L1088.0 875.1L1088.4 876.1L1088.9 871.4L1089.4 873.0L1089.9 870.5L1090.5 872.1L1091.0 876.0L1091.5 871.8L1092.0 875.2L1092.6 869.6L1093.0 867.9L1093.1 871.5L1093.6 875.5L1094.1 871.7L1094.7 865.1L1095.2 871.5L1095.7 871.9L1096.2 869.4L1096.8 868.5L1097.0 867.5L1097.3 865.5L1097.8 862.2L1098.3 863.5L1098.9 861.7L1099.4 860.0L1099.9 860.8L1100.0 860.7L1100.4 857.7L1101.0 858.2L1101.5 856.6L1102.0 854.7L1102.5 853.5L1103.1 851.9L1103.6 852.5L1104.1 849.7L1104.5 850.1L1104.7 850.1L1105.2 846.0L1105.7 843.5L1106.2 841.7L1106.8 838.3L1107.3 835.9L1107.5 835.0L1107.8 834.1L1108.3 828.9L1108.9 825.2L1109.4 820.9L1109.9 815.1L1110.0 814.0L1110.4 809.7L1111.0 802.8L1111.5 795.4L1111.9 790.7L1112.0 787.8L1112.5 781.6L1113.1 776.3L1113.6 770.0L1114.1 763.2L1114.5 758.8L1114.6 758.8L1115.2 754.7L1115.7 747.6L1116.2 741.5L1116.5 739.0L1116.7 723.5L1117.3 689.2L1117.8 654.0L1118.3 619.2L1118.8 583.2L1118.9 580.0L1119.1 396.0L1119.4 396.0L1119.9 396.0L1120.4 396.0L1120.9 396.0L1121.5 396.0L1122.0 396.0L1122.5 396.0L1123.0 396.0L1123.6 396.0L1124.1 396.0L1124.6 396.0L1125.1 396.0L1125.7 396.0L1126.2 396.0L1126.7 396.0L1127.3 396.0L1127.8 396.0L1128.1 396.0L1128.3 521.2L1128.4 579.6L1128.8 634.4L1129.4 702.1L1129.5 719.5L1129.9 729.2L1130.4 744.7L1130.9 756.6L1131.5 771.5L1131.7 776.6L1132.0 783.3L1132.5 793.4L1133.0 801.9L1133.6 811.3L1134.0 821.4L1134.1 821.5L1134.6 827.3L1135.1 834.1L1135.7 839.1L1135.8 840.3L1136.2 843.7L1136.7 846.1L1137.2 848.6L1137.8 849.9L1138.3 851.5L1138.5 854.0L1138.8 854.1L1139.3 854.7L1139.9 857.5L1140.4 858.3L1140.9 860.0L1141.4 855.0L1142.0 855.7L1142.5 867.8L1143.0 856.6L1143.0 861.7L1143.5 859.6L1144.1 865.0L1144.6 861.7L1145.1 860.3L1145.6 872.5L1146.2 862.3L1146.7 865.8L1147.2 864.1L1147.7 872.7L1148.3 872.6L1148.8 874.9L1149.3 869.4L1149.9 874.0L1150.0 874.4L1150.4 874.7L1150.9 865.7L1151.4 870.1L1152.0 872.3L1152.5 867.7L1153.0 874.0L1153.5 872.0L1154.1 874.3L1154.6 873.5L1155.1 869.5L1155.6 865.2L1156.2 866.9L1156.7 870.3L1157.2 876.4L1157.7 866.5L1158.3 874.6L1158.8 867.2L1159.3 871.6L1159.8 875.7L1160.0 869.7L1160.4 866.4L1160.9 867.4L1161.4 872.9L1161.9 871.7L1162.5 870.8L1163.0 865.1L1163.5 872.1L1164.0 873.0L1164.6 867.7L1165.1 865.0L1165.6 869.2L1166.1 871.4L1166.7 866.8L1167.2 868.0L1167.7 870.3L1168.2 872.4L1168.8 861.0L1169.3 869.0L1169.8 860.4L1170.0 863.1L1170.3 868.3L1170.9 861.0L1171.4 867.0L1171.9 868.1L1172.5 866.2L1173.0 867.6L1173.5 864.2L1174.0 862.2L1174.6 868.2L1175.1 859.0L1175.6 856.3L1176.0 860.3L1176.1 861.1L1176.7 856.2L1177.2 862.4L1177.7 852.2L1178.2 848.4L1178.8 851.3L1179.0 846.3L1179.3 850.4L1179.8 843.2L1180.3 841.5L1180.9 839.3L1181.4 840.3L1181.9 829.1L1182.0 835.6L1182.4 835.4L1183.0 832.2L1183.5 831.9L1184.0 834.7L1184.5 836.7L1185.1 836.2L1185.6 836.5L1186.1 831.8L1186.6 827.5L1187.2 833.4L1187.7 825.1L1188.2 822.6L1188.7 823.0L1189.0 822.1L1189.3 827.1L1189.8 826.7L1190.3 834.4L1190.8 832.9L1191.4 832.6L1191.9 831.4L1192.4 823.9L1192.9 823.6L1193.5 832.8L1194.0 832.1L1194.5 822.5L1195.1 827.6L1195.6 825.8L1196.0 829.8L1196.1 828.6L1196.6 829.3L1197.2 831.9L1197.7 834.4L1198.2 836.5L1198.7 831.4L1199.3 830.4L1199.8 837.4L1200.3 826.5L1200.8 837.2L1201.4 827.8L1201.9 831.5L1202.0 840.2L1202.4 832.1L1202.9 828.8L1203.5 830.2L1204.0 842.0L1204.5 834.8L1205.0 834.6L1205.6 842.4L1206.1 841.3L1206.6 834.1L1207.1 832.7L1207.7 843.8L1208.0 837.0L1208.2 838.6L1208.7 835.4L1209.2 840.0L1209.8 847.7L1210.3 849.0L1210.8 840.1L1211.3 847.5L1211.9 841.6L1212.4 847.8L1212.9 852.7L1213.0 845.8L1213.4 851.5L1214.0 847.3L1214.5 849.8L1215.0 856.2L1215.5 858.3L1216.1 852.9L1216.6 855.7L1217.1 863.1L1217.7 859.6L1218.0 863.1L1218.2 858.6L1218.7 864.3L1219.2 856.9L1219.8 872.3L1220.3 860.5L1220.8 869.1L1221.3 861.1L1221.9 865.0L1222.4 873.6L1222.9 863.5L1223.4 862.8L1224.0 865.1L1224.0 868.7L1224.5 873.3L1225.0 860.7L1225.5 867.2L1226.1 859.5L1226.6 872.6L1227.1 869.2L1227.6 867.2L1228.2 860.8L1228.7 863.2L1229.2 867.6L1229.7 857.2L1230.0 858.2L1230.3 858.7L1230.8 864.6L1231.3 850.7L1231.8 860.9L1232.4 852.5L1232.9 852.1L1233.4 856.7L1233.9 851.3L1234.5 848.6L1235.0 856.4L1235.0 845.9L1235.5 851.9L1236.0 842.0L1236.6 851.7L1237.1 840.7L1237.6 848.2L1238.0 844.3L1238.1 846.5L1238.7 842.8L1239.2 835.0L1239.7 838.8L1240.3 846.7L1240.8 834.3L1241.3 839.7L1241.8 839.2L1242.4 837.6L1242.9 835.0L1243.0 835.3L1243.4 834.1L1243.9 835.4L1244.5 832.6L1245.0 843.1L1245.5 845.5L1246.0 836.4L1246.6 834.4L1247.1 836.3L1247.6 835.9L1248.0 840.6L1248.1 838.4L1248.7 844.2L1249.2 847.8L1249.7 850.9L1250.2 849.9L1250.8 852.8L1251.3 856.4L1251.8 849.2L1252.3 847.0L1252.9 848.5L1253.0 853.0L1253.4 856.8L1253.9 859.4L1254.4 850.6L1255.0 856.4L1255.5 850.7L1256.0 858.5L1256.5 863.4L1257.1 856.6L1257.6 862.1L1258.0 862.0L1258.1 862.4L1258.6 855.7L1259.2 860.5L1259.7 854.1L1260.2 859.4L1260.7 854.4L1261.3 867.7L1261.8 859.0L1262.3 857.8L1262.9 867.4L1263.4 860.9L1263.9 862.3L1264.0 867.5L1264.4 861.9L1265.0 859.3L1265.5 863.6L1266.0 856.5L1266.5 853.7L1267.1 861.1L1267.6 857.3L1268.1 863.8L1268.6 856.6L1269.2 861.0L1269.5 848.3L1269.7 848.3L1270.2 853.8L1270.7 861.4L1271.3 856.9L1271.8 859.5L1272.3 856.6L1272.8 857.0L1273.4 857.5L1273.9 857.5L1274.4 854.6L1274.9 864.5L1275.0 859.4L1275.5 868.1L1276.0 863.2L1276.5 856.7L1277.0 858.5L1277.6 856.7L1278.1 864.7L1278.6 857.2L1279.1 861.4L1279.7 854.7L1280.0 858.1L1280.2 865.0L1280.7 859.1L1281.2 855.3L1281.8 852.5L1282.3 853.5L1282.8 851.1L1283.3 857.2L1283.9 857.5L1284.4 854.6L1284.9 855.4L1285.0 855.8L1285.5 852.5L1286.0 846.0L1286.5 851.7L1287.0 841.8L1287.6 847.6L1288.1 847.4L1288.6 849.1L1289.1 847.9L1289.7 842.2L1290.0 845.4L1290.2 846.9L1290.7 842.4L1291.2 837.9L1291.8 834.7L1292.3 844.7L1292.8 832.0L1293.3 832.5L1293.9 839.9L1294.4 828.0L1294.9 828.2L1295.0 831.3L1295.4 826.9L1296.0 823.9L1296.5 833.3L1297.0 823.0L1297.5 832.5L1298.1 818.4L1298.6 820.3L1299.0 823.6L1299.1 829.6L1299.6 820.2L1300.2 818.7L1300.7 819.6L1301.2 816.9L1301.7 813.9L1302.3 813.9L1302.5 811.2L1302.8 811.4L1303.3 809.0L1303.8 808.2L1304.4 805.6L1304.9 804.8L1305.4 800.9L1305.9 799.4L1306.0 800.1L1306.5 793.9L1307.0 786.0L1307.5 780.1L1308.1 771.6L1308.2 771.2L1308.6 764.2L1309.1 751.7L1309.6 743.6L1309.8 740.5L1310.2 734.7L1310.7 730.9L1311.2 724.6L1311.6 720.0L1311.7 716.7L1312.3 707.5L1312.6 699.1L1312.8 635.7L1313.0 559.5L1313.3 558.8L1313.8 552.7L1314.4 547.5L1314.9 543.9L1315.4 396.0L1315.4 396.0L1315.9 396.0L1316.5 396.0L1317.0 396.0L1317.5 396.0L1318.0 396.0L1318.6 396.0L1319.1 396.0L1319.6 396.0L1320.1 396.0L1320.7 396.0L1320.7 486.4L1321.2 488.8L1321.7 489.1L1322.2 489.4L1322.4 489.2L1322.6 699.5L1322.8 710.8L1323.3 741.3L1323.6 759.0L1323.8 770.1L1324.3 793.8L1324.5 799.5L1324.9 802.5L1325.4 809.9L1325.9 815.2L1326.4 820.7L1327.0 824.1L1327.0 824.7L1327.5 829.6L1328.0 830.9L1328.5 832.5L1329.1 834.3L1329.6 838.1L1330.0 839.5L1330.1 839.3L1330.7 841.8L1331.2 841.5L1331.7 844.9L1332.2 841.1L1332.8 852.2L1333.3 845.2L1333.8 845.3L1334.3 853.4L1334.9 850.5L1335.0 861.6L1335.4 855.9L1335.9 851.7L1336.4 852.0L1337.0 849.2L1337.5 856.1L1338.0 853.0L1338.5 844.8L1339.1 857.2L1339.6 852.4L1340.1 848.0L1340.6 844.5L1341.2 844.5L1341.7 845.8L1342.2 847.9L1342.7 852.1L1343.3 847.6L1343.8 856.3L1344.3 852.5L1344.8 851.2L1345.0 851.2L1345.4 848.3L1345.9 852.7L1346.4 848.1L1346.9 849.4L1347.5 852.3L1348.0 854.2L1348.5 849.5L1349.0 855.5L1349.6 850.0L1350.1 858.5L1350.6 846.9L1351.1 853.4L1351.7 850.1L1352.2 851.6L1352.7 846.5L1353.3 849.9L1353.8 847.6L1354.3 855.1L1354.8 856.6L1355.4 856.8L1355.9 858.7L1356.4 850.7L1356.9 854.7L1357.5 859.5L1358.0 852.6L1358.5 853.0L1359.0 855.1L1359.6 845.7L1360.1 858.2L1360.6 851.6L1361.1 851.2L1361.7 847.4L1362.2 852.9L1362.7 854.1L1363.2 857.3L1363.8 854.7L1364.3 855.1L1364.8 859.7L1365.3 849.9L1365.9 852.6L1366.4 859.3L1366.9 852.9L1367.4 855.1L1368.0 853.9L1368.5 861.1L1369.0 856.7L1369.5 858.3L1370.1 847.2L1370.6 852.8L1371.1 858.3L1371.6 849.6L1372.2 859.1L1372.7 857.4L1373.2 859.0L1373.7 858.5L1374.3 851.7L1374.8 849.4L1375.3 861.9L1375.9 854.0L1376.4 861.3L1376.9 857.6L1377.4 861.6L1378.0 847.7L1378.5 859.4L1379.0 850.7L1379.5 855.5L1380.1 849.3L1380.6 849.8L1381.1 860.7L1381.6 852.4L1382.2 857.8L1382.7 861.1L1383.2 849.6L1383.7 847.1L1384.3 846.5L1384.8 852.5L1385.3 858.4L1385.8 858.0L1386.4 854.7L1386.9 845.8L1387.4 849.4L1387.9 847.9L1388.5 849.8L1389.0 847.5L1389.5 846.0L1390.0 853.0L1390.6 850.5L1391.1 850.6L1391.6 849.3L1392.1 857.1L1392.7 849.4L1393.2 847.3L1393.7 849.2L1394.2 848.6L1394.8 850.0L1395.3 850.5L1395.8 848.2L1396.3 854.2L1396.9 847.0L1397.4 858.5L1397.9 858.1L1398.5 852.1L1399.0 855.7L1399.5 847.9L1400.0 849.0L1400.6 858.4L1401.1 851.7L1401.6 855.8L1402.1 856.8L1402.7 855.0L1403.2 851.2L1403.7 850.0L1404.2 845.0L1404.8 857.1L1405.3 854.4L1405.8 844.7L1406.3 856.3L1406.9 847.8L1407.4 856.3L1407.9 845.5L1408.4 843.5L1409.0 856.1L1409.5 856.5L1410.0 850.4L1410.5 856.7L1411.1 844.0L1411.6 844.9L1412.1 857.3L1412.6 856.7L1413.2 852.9L1413.7 847.3L1414.2 853.0L1414.7 842.0L1415.3 847.2L1415.8 854.6L1416.3 845.0L1416.8 843.3L1417.4 848.6L1417.9 851.1L1418.4 845.4L1418.9 852.8L1419.5 853.9L1420.0 857.6L1420.0 845.6L1420.5 850.4L1421.1 846.8L1421.6 850.3L1422.1 843.4L1422.6 850.7L1423.2 850.7L1423.7 849.4L1424.2 850.7L1424.7 842.9L1425.3 844.5L1425.8 848.6L1426.3 847.0L1426.8 844.0L1427.4 836.2L1427.9 838.9L1428.4 842.6L1428.9 847.3L1429.5 849.8L1430.0 851.3L1430.5 842.5L1431.0 851.6L1431.6 843.1L1432.1 840.3L1432.6 851.9L1433.1 839.5L1433.7 845.3L1434.2 850.0L1434.7 847.8L1435.2 851.2L1435.8 849.2L1436.3 845.1L1436.8 843.5L1437.3 847.8L1437.9 846.9L1438.4 846.0L1438.9 848.6L1439.4 845.9L1440.0 848.8L1440.5 845.8L1441.0 850.0L1441.5 841.3L1442.1 843.8L1442.6 843.0L1443.1 851.7L1443.7 847.3L1444.2 852.8L1444.7 847.0L1445.2 852.8L1445.8 849.9L1446.3 852.3L1446.8 843.3L1447.3 853.9L1447.9 843.3L1448.4 850.2L1448.9 848.2L1449.4 844.1L1450.0 840.2L1450.5 839.3L1451.0 838.7L1451.5 846.8L1452.1 846.9L1452.6 839.9L1453.1 838.8L1453.6 838.4L1454.2 839.5L1454.7 849.5L1455.2 851.7L1455.7 845.2L1456.3 857.8L1456.8 841.7L1457.3 838.9L1457.8 847.0L1458.4 843.3L1458.9 844.6L1459.4 840.4L1459.9 849.3L1460.5 852.4L1461.0 850.4L1461.5 841.4L1462.0 843.6L1462.6 842.6L1463.1 854.9L1463.6 845.9L1464.1 842.4L1464.7 852.7L1465.2 843.6L1465.7 841.7L1466.3 846.3L1466.8 841.3L1467.3 847.8L1467.8 847.5L1468.4 845.7L1468.9 849.5L1469.4 853.0L1469.9 846.2L1470.5 845.1L1471.0 850.7L1471.5 847.1L1472.0 844.8L1472.6 855.2L1473.1 843.9L1473.6 846.7L1474.1 844.9L1474.7 852.6L1475.2 850.3L1475.7 853.9L1476.2 844.0L1476.8 852.3L1477.3 842.1L1477.8 841.2L1478.3 843.1L1478.9 851.9L1479.4 845.6L1479.9 841.3L1480.4 840.7L1481.0 843.1L1481.5 848.4L1482.0 840.5L1482.5 840.8L1483.1 851.3L1483.6 842.3L1484.1 848.6L1484.6 850.8L1485.2 849.5L1485.7 847.6L1486.2 844.9L1486.7 848.7L1487.3 843.5L1487.8 849.5L1488.3 848.4L1488.9 839.5L1489.4 837.8L1489.9 847.7L1490.4 844.8L1491.0 846.7L1491.5 847.5L1492.0 844.4L1492.5 844.5L1493.1 845.8L1493.6 841.3L1494.1 844.4L1494.6 837.0L1495.2 851.0L1495.7 839.0L1496.2 851.2L1496.7 847.9L1497.3 841.5L1497.8 844.1L1498.3 847.9L1498.8 835.2L1499.4 842.3L1499.9 847.8L1500.4 837.1L1500.9 835.2L1501.5 842.4L1502.0 844.0L1502.5 848.3L1503.0 837.3L1503.6 852.1L1504.1 842.3L1504.6 833.5L1505.1 838.8L1505.7 848.2L1506.2 844.4L1506.7 843.5L1507.2 844.0L1507.8 848.0L1508.3 841.7L1508.8 835.7L1509.3 834.5L1509.9 842.5L1510.0 836.7L1510.4 848.4L1510.9 849.1L1511.4 833.8L1512.0 843.8L1512.5 836.6L1513.0 847.1L1513.6 841.3L1514.1 846.4L1514.6 841.5L1515.1 847.2L1515.7 837.0L1516.2 850.0L1516.7 839.4L1517.2 854.5L1517.8 841.5L1518.3 838.5L1518.8 842.9L1519.3 848.8L1519.9 842.4L1520.4 840.1L1520.9 842.0L1521.4 841.2L1522.0 841.3L1522.5 842.6L1523.0 845.5L1523.5 845.4L1524.1 834.7L1524.6 848.4L1525.1 839.4L1525.6 853.6L1526.2 841.5L1526.7 847.3L1527.2 836.1L1527.7 846.0L1528.3 843.3L1528.8 841.0L1529.3 838.9L1529.8 840.8L1530.4 843.2L1530.9 839.3L1531.4 846.4L1531.9 839.0L1532.5 839.2L1533.0 845.9L1533.5 832.5L1534.0 845.7L1534.6 839.3L1535.1 834.0L1535.6 842.4L1536.2 835.6L1536.7 839.0L1537.2 839.8L1537.7 846.3L1538.3 841.8L1538.8 838.3L1539.3 841.2L1539.8 841.2L1540.4 833.4L1540.9 836.9L1541.4 833.7L1541.9 832.7L1542.5 835.9L1543.0 831.4L1543.5 833.6L1544.0 833.5L1544.6 838.8L1545.1 837.0L1545.6 832.1L1546.1 845.5L1546.7 841.7L1547.2 840.7L1547.7 840.0L1548.2 825.8L1548.8 833.0L1549.3 841.0L1549.8 835.4L1550.3 832.8L1550.9 834.0L1551.4 842.0L1551.9 835.6L1552.4 842.5L1553.0 844.1L1553.5 843.1L1554.0 836.0L1554.5 837.1L1555.1 837.5L1555.6 829.6L1556.1 839.5L1556.6 840.1L1557.2 830.8L1557.7 832.7L1558.2 837.1L1558.8 841.8L1559.3 832.6L1559.8 840.4L1560.3 828.0L1560.9 835.3L1561.4 831.4L1561.9 839.9L1562.4 828.0L1563.0 828.2L1563.5 832.6L1564.0 838.4L1564.5 838.1L1565.1 832.2L1565.6 838.1L1566.1 829.4L1566.6 834.0L1567.2 840.6L1567.7 829.9L1568.2 831.2L1568.7 833.1L1569.3 831.0L1569.8 835.9L1570.3 834.3L1570.8 837.1L1571.4 828.4L1571.9 840.5L1572.4 834.2L1572.9 829.3L1573.5 837.7L1574.0 830.9L1574.5 831.5L1575.0 839.7L1575.6 829.3L1576.1 828.9L1576.6 831.7L1577.1 837.1L1577.7 829.6L1578.2 842.9L1578.7 842.1L1579.2 837.4L1579.8 831.4L1580.3 832.7L1580.8 835.9L1581.4 831.1L1581.9 835.7L1582.4 840.4L1582.9 828.8L1583.5 830.6L1584.0 840.9L1584.5 839.3L1585.0 826.7L1585.6 827.6L1586.1 835.8L1586.6 838.7L1587.1 840.8L1587.7 827.8L1588.2 833.1L1588.7 833.6L1589.2 838.8L1589.8 833.2L1590.3 826.3L1590.8 826.9L1591.3 833.3L1591.9 827.8L1592.4 833.5L1592.9 834.6L1593.4 833.4L1594.0 834.4L1594.5 825.9L1595.0 836.2L1595.5 826.1L1596.1 833.1L1596.6 827.8L1597.1 831.5L1597.6 837.6L1598.2 838.1L1598.7 838.7L1599.2 835.7L1599.7 833.2L1600.0 837.2L1600.3 826.1L1600.8 825.4L1601.3 838.3L1601.8 835.8L1602.4 831.3L1602.9 828.6L1603.4 839.4L1604.0 831.4L1604.5 828.5L1605.0 839.0L1605.5 836.1L1606.1 837.5L1606.6 838.9L1607.1 839.1L1607.6 830.5L1608.2 828.3L1608.7 833.1L1609.2 830.3L1609.7 829.6L1610.3 833.2L1610.8 838.0L1611.3 832.7L1611.8 829.4L1612.4 827.0L1612.9 836.7L1613.4 822.4L1613.9 827.1L1614.5 836.0L1615.0 824.8L1615.5 824.7L1616.0 827.7L1616.6 835.0L1617.1 830.8L1617.6 833.2L1618.1 836.3L1618.7 837.3L1619.2 834.9L1619.7 828.6L1620.2 830.1L1620.8 821.7L1621.3 822.7L1621.8 828.0L1622.3 826.2L1622.9 829.1L1623.4 821.1L1623.9 835.5L1624.4 828.2L1625.0 823.2L1625.5 830.4L1626.0 829.4L1626.6 831.3L1627.1 835.5L1627.6 827.1L1628.1 820.4L1628.7 823.3L1629.2 826.4L1629.7 824.0L1630.2 827.5L1630.8 829.6L1631.3 826.9L1631.8 820.6L1632.3 820.1L1632.9 820.0L1633.4 829.9L1633.9 825.5L1634.4 827.6L1635.0 825.2L1635.5 829.5L1636.0 834.0L1636.5 828.2L1637.1 821.9L1637.6 829.7L1638.1 821.9L1638.6 829.0L1639.2 827.3L1639.7 818.7L1640.2 821.3L1640.7 821.9L1641.3 824.2L1641.8 831.8L1642.3 829.2L1642.8 825.6L1643.4 824.5L1643.9 818.7L1644.4 821.5L1644.9 831.5L1645.5 823.8L1646.0 822.1L1646.5 823.5L1647.0 821.1L1647.6 829.8L1648.1 823.3L1648.6 822.9L1649.2 822.3L1649.7 821.2L1650.2 821.0L1650.7 821.1L1651.3 823.8L1651.8 823.3L1652.3 816.8L1652.8 822.4L1653.4 828.7L1653.9 827.7L1654.4 818.1L1654.9 819.3L1655.5 825.6L1656.0 830.5L1656.5 816.8L1657.0 820.7L1657.6 823.8L1658.1 826.4L1658.6 824.6L1659.1 825.8L1659.7 829.4L1660.2 829.3L1660.7 818.9L1661.2 829.0L1661.8 819.0L1662.3 815.7L1662.8 827.5L1663.3 829.3L1663.9 817.0L1664.4 826.7L1664.9 816.4L1665.4 829.0L1666.0 822.0L1666.5 822.3L1667.0 828.6L1667.5 819.3L1668.1 822.9L1668.6 816.1L1669.1 817.2L1669.6 822.7L1670.2 827.7L1670.7 820.2L1671.2 814.7L1671.8 818.1L1672.3 822.2L1672.8 815.6L1673.3 816.9L1673.9 818.1L1674.4 827.5L1674.9 821.2L1675.4 816.8L1676.0 822.8L1676.5 823.3L1677.0 823.9L1677.5 825.7L1678.1 823.0L1678.6 815.1L1679.1 823.2L1679.6 823.3L1680.2 821.6L1680.7 816.1L1681.2 817.0L1681.7 823.3L1682.3 825.4L1682.8 814.8L1683.3 825.2L1683.8 820.5L1684.4 823.2L1684.9 825.6L1685.4 814.9L1685.9 824.8L1686.5 825.0L1687.0 820.9L1687.5 817.7L1688.0 822.6L1688.6 822.8L1689.1 820.1L1689.6 822.0L1690.1 825.2L1690.7 826.1L1691.2 828.4L1691.7 828.8L1692.2 814.4L1692.8 827.7L1693.3 827.3L1693.8 829.0L1694.4 825.9L1694.9 828.2L1695.4 828.6L1695.9 815.7L1696.5 815.4L1697.0 822.0L1697.5 827.3L1698.0 821.4L1698.6 820.9L1699.1 826.2L1699.6 821.9L1700.0 825.5L1700.1 822.1L1700.7 820.8L1701.2 820.4L1701.7 824.9L1702.2 814.6L1702.8 817.8L1703.3 818.1L1703.8 822.6L1704.3 818.7L1704.9 826.1L1705.4 817.6L1705.9 826.3L1706.4 817.1L1707.0 826.6L1707.5 825.9L1708.0 816.6L1708.5 820.3L1709.1 813.3L1709.6 821.5L1710.1 822.4L1710.6 819.0L1711.2 818.5L1711.7 819.4L1712.2 809.8L1712.7 814.7L1713.3 824.2L1713.8 822.3L1714.3 817.3L1714.8 818.8L1715.4 819.8L1715.9 818.5L1716.4 818.6L1717.0 815.6L1717.5 818.2L1718.0 811.4L1718.5 819.0L1719.1 814.8L1719.6 819.5L1720.1 818.5L1720.6 824.2L1721.2 828.7L1721.7 808.9L1722.2 810.5L1722.7 816.1L1723.3 816.6L1723.8 815.5L1724.3 819.3L1724.8 822.2L1725.4 808.8L1725.9 816.0L1726.4 812.0L1726.9 813.4L1727.5 821.8L1728.0 808.2L1728.5 810.1L1729.0 814.5L1729.6 818.1L1730.1 821.1L1730.6 821.3L1731.1 820.5L1731.7 817.8L1732.2 813.2L1732.7 812.3L1733.2 819.4L1733.8 817.7L1734.3 812.2L1734.8 818.1L1735.3 820.4L1735.9 814.9L1736.4 810.6L1736.9 807.0L1737.4 810.6L1738.0 817.1L1738.5 812.8L1739.0 810.3L1739.6 809.5L1740.1 808.1L1740.6 816.3L1741.1 817.7L1741.7 822.3L1742.2 819.7L1742.7 810.2L1743.2 811.0L1743.8 822.5L1744.3 812.2L1744.8 816.0L1745.3 819.9L1745.9 817.4L1746.4 808.2L1746.9 814.7L1747.4 815.6L1748.0 815.6L1748.5 809.0L1749.0 821.9L1749.5 814.8L1750.1 817.4L1750.6 818.8L1751.1 810.9L1751.6 807.4L1752.2 816.4L1752.7 820.8L1753.2 820.5L1753.7 820.3L1754.3 810.0L1754.8 820.4L1755.3 808.1L1755.8 811.2L1756.4 819.4L1756.9 808.3L1757.4 818.7L1757.9 818.9L1758.5 820.5L1759.0 819.7L1759.5 817.6L1760.0 809.2L1760.6 808.3L1761.1 807.7L1761.6 811.2L1762.2 811.1L1762.7 821.4L1763.2 819.2L1763.7 807.6L1764.3 813.3L1764.8 818.2L1765.3 811.9L1765.8 813.9L1766.4 819.2L1766.9 819.7L1767.4 808.3L1767.9 818.2L1768.5 812.4L1769.0 805.9L1769.5 810.1L1770.0 818.9L1770.6 808.2L1771.1 807.8L1771.6 819.8L1772.1 811.8L1772.7 819.0L1773.2 809.4L1773.7 806.0L1774.2 818.9L1774.8 816.3L1775.3 819.3L1775.8 815.2L1776.3 817.6L1776.9 809.8L1777.4 815.7L1777.9 817.3L1778.4 815.2L1779.0 818.9L1779.5 818.5L1780.0 813.3L1780.5 819.0L1781.1 815.4L1781.6 818.3L1782.1 806.5L1782.6 808.8L1783.2 806.4L1783.7 804.3L1784.2 813.7L1784.8 818.4L1785.3 813.0L1785.8 818.1L1786.3 815.6L1786.9 812.4L1787.4 808.9L1787.9 805.7L1788.4 817.1L1789.0 816.8L1789.5 816.0L1790.0 807.4L1790.5 813.6L1791.1 810.3L1791.6 814.6L1792.1 810.7L1792.6 802.2L1793.2 806.3L1793.7 806.1L1794.2 807.0L1794.7 807.2L1795.3 802.2L1795.8 809.7L1796.3 816.1L1796.8 811.2L1797.4 805.0L1797.9 816.4L1798.4 814.9L1798.9 814.9L1799.5 803.1L1800.0 812.0L1800.0 806.2L1800.5 813.2L1801.0 806.7L1801.6 804.6L1802.1 815.5L1802.6 813.7L1803.1 810.5L1803.7 807.9L1804.2 809.1L1804.7 810.5L1805.2 806.9L1805.8 806.6L1806.3 804.4L1806.8 809.8L1807.4 804.7L1807.9 806.6L1808.4 804.7L1808.9 814.2L1809.5 808.2L1810.0 802.5L1810.5 802.1L1811.0 812.0L1811.6 814.5L1812.1 803.6L1812.6 808.8L1813.1 807.5L1813.7 806.8L1814.2 810.7L1814.7 812.3L1815.2 812.5L1815.8 803.3L1816.3 809.1L1816.8 802.3L1817.3 802.7L1817.9 805.1L1818.4 808.4L1818.9 807.2L1819.4 800.3L1820.0 807.0L1820.5 802.1L1821.0 802.1L1821.5 812.5L1822.1 809.2L1822.6 803.0L1823.1 810.9L1823.6 814.0L1824.2 812.0L1824.7 801.3L1825.2 809.0L1825.7 805.1L1826.3 805.5L1826.8 801.6L1827.3 800.7L1827.8 813.5L1828.4 805.6L1828.9 801.1L1829.4 805.6L1830.0 805.4L1830.5 800.7L1831.0 809.5L1831.5 807.7L1832.1 809.1L1832.6 810.8L1833.1 811.3L1833.6 813.0L1834.2 808.4L1834.7 812.5L1835.2 812.4L1835.7 800.3L1836.3 803.1L1836.8 804.4L1837.3 804.1L1837.8 798.3L1838.4 802.7L1838.9 808.7L1839.4 804.3L1839.9 806.7L1840.5 807.0L1841.0 806.0L1841.5 796.6L1842.0 802.2L1842.6 807.8L1843.1 802.0L1843.6 811.2L1844.1 811.1L1844.7 804.3L1845.2 811.5L1845.7 799.8L1846.2 804.0L1846.8 810.8L1847.3 798.1L1847.8 804.5L1848.3 803.0L1848.9 802.6L1849.4 803.2L1849.9 805.7L1850.0 810.6L1850.4 797.2L1851.0 798.5L1851.5 806.6L1852.0 804.2L1852.6 806.7L1853.1 808.4L1853.6 807.8L1854.1 800.0L1854.7 798.2L1855.2 804.1L1855.7 795.3L1856.2 789.7L1856.8 803.4L1857.3 801.1L1857.8 806.5L1858.3 794.3L1858.9 793.4L1859.4 807.0L1859.9 805.4L1860.4 793.0L1861.0 803.2L1861.5 800.9L1862.0 794.0L1862.5 797.9L1863.1 800.5L1863.6 800.4L1864.1 794.0L1864.6 791.0L1865.2 791.5L1865.7 794.1L1866.2 795.0L1866.7 793.1L1867.3 795.0L1867.8 791.2L1868.3 795.5L1868.8 794.4L1869.4 793.7L1869.9 794.8L1870.0 802.1L1870.4 800.8L1870.9 790.6L1871.5 786.7L1872.0 797.0L1872.5 789.7L1873.0 800.7L1873.6 794.0L1874.1 803.2L1874.6 793.9L1875.2 796.6L1875.7 789.5L1876.2 791.2L1876.7 791.4L1877.3 803.1L1877.8 791.9L1878.3 798.7L1878.8 798.7L1879.4 800.9L1879.9 796.1L1880.4 803.6L1880.9 793.1L1881.5 803.4L1882.0 789.8L1882.5 798.5L1883.0 798.8L1883.6 800.9L1884.1 792.0L1884.6 794.3L1885.1 794.4L1885.7 791.8L1886.2 793.1L1886.7 797.1L1887.2 803.2L1887.8 792.9L1888.3 790.3L1888.8 789.3L1889.3 802.2L1889.9 790.8L1890.4 798.0L1890.9 805.0L1891.4 792.8L1892.0 795.0L1892.5 797.1L1893.0 795.3L1893.5 791.9L1894.1 805.0L1894.6 791.4L1895.1 791.9L1895.6 789.4L1896.2 786.6L1896.7 797.6L1897.2 786.9L1897.8 789.4L1898.3 790.5L1898.8 785.7L1899.3 794.9L1899.9 785.2L1900.0 795.3L1900.4 782.7L1900.9 782.4L1901.4 789.5L1902.0 789.5L1902.5 788.0L1903.0 794.7L1903.5 791.9L1904.1 792.8L1904.6 791.9L1905.1 792.3L1905.6 791.9L1906.2 792.9L1906.7 790.7L1907.2 781.8L1907.7 786.7L1908.3 791.0L1908.8 786.3L1909.3 786.1L1909.8 783.2L1910.4 780.7L1910.9 791.7L1911.4 783.4L1911.9 788.2L1912.5 783.0L1913.0 792.5L1913.5 777.5L1914.0 792.0L1914.6 779.7L1915.1 777.1L1915.6 791.5L1916.1 780.1L1916.7 790.7L1917.2 779.6L1917.7 780.8L1918.2 790.0L1918.8 778.7L1919.3 786.9L1919.8 786.9L1920.4 779.9L1920.9 775.3L1921.4 785.4L1921.9 775.1L1922.5 778.0L1923.0 775.1L1923.5 785.3L1924.0 775.5L1924.6 779.2L1925.1 780.8L1925.6 774.2L1926.1 778.5L1926.7 780.4L1927.2 784.1L1927.7 775.4L1928.2 773.7L1928.8 773.5L1929.3 776.4L1929.8 772.3L1930.0 780.1L1930.3 776.6L1930.9 777.3L1931.4 776.3L1931.9 774.5L1932.4 765.9L1933.0 773.2L1933.5 765.5L1934.0 774.3L1934.5 774.3L1935.1 778.8L1935.6 773.6L1936.0 768.2L1936.1 769.5L1936.6 768.6L1937.2 766.8L1937.7 757.9L1938.2 764.0L1938.7 769.0L1939.3 765.8L1939.8 759.3L1940.3 766.5L1940.8 764.4L1941.4 749.9L1941.9 761.8L1942.0 752.8L1942.4 749.6L1943.0 753.3L1943.5 756.3L1944.0 752.9L1944.5 745.3L1945.1 747.0L1945.6 746.2L1946.1 744.4L1946.6 743.4L1947.0 739.7L1947.2 740.6L1947.7 737.4L1948.2 733.2L1948.7 732.2L1949.3 727.7L1949.8 725.1L1950.3 723.2L1950.8 718.7L1951.4 716.1L1951.9 712.8L1952.0 712.9L1952.4 709.3L1952.9 703.7L1953.5 699.4L1954.0 695.9L1954.5 693.5L1955.0 687.8L1955.0 689.3L1955.6 678.4L1956.1 668.0L1956.6 658.1L1957.1 648.3L1957.5 639.4L1957.7 638.2L1958.2 638.6L1958.7 635.9L1959.2 635.6L1959.8 634.0L1960.3 632.4L1960.8 631.3L1960.9 396.0L1961.3 396.0L1961.9 396.0L1962.4 396.0L1962.9 396.0L1963.4 396.0L1963.5 539.6L1964.0 539.1L1964.5 540.1L1965.0 540.9L1965.6 539.6L1966.1 541.1L1966.6 541.9L1967.1 540.8L1967.7 541.9L1968.2 544.2L1968.7 543.1L1969.2 545.6L1969.7 544.8L1969.8 588.1L1969.9 698.7L1970.3 743.8L1970.3 744.6L1970.8 749.1L1971.3 754.1L1971.5 755.8L1971.9 755.4L1972.4 758.9L1972.9 761.0L1973.4 762.8L1974.0 765.0L1974.0 763.8L1974.5 764.2L1975.0 762.5L1975.5 766.5L1976.1 767.6L1976.6 767.6L1977.1 766.5L1977.6 767.9L1978.2 772.5L1978.7 764.6L1979.2 768.5L1979.7 764.2L1980.0 769.2L1980.3 771.0L1980.8 765.4L1981.3 776.2L1981.8 765.3L1982.4 770.7L1982.9 773.9L1983.4 774.6L1983.9 770.3L1984.5 766.6L1985.0 779.0L1985.5 772.6L1986.0 771.9L1986.6 765.3L1987.1 776.4L1987.6 777.0L1988.2 776.2L1988.7 772.4L1989.2 772.6L1989.7 778.2L1990.0 779.9L1990.3 774.8L1990.8 775.5L1991.3 778.5L1991.8 770.9L1992.4 768.4L1992.9 777.1L1993.4 775.0L1993.9 770.8L1994.5 778.3L1995.0 777.0L1995.5 766.0L1996.0 773.1L1996.6 776.0L1997.1 779.0L1997.6 775.9L1998.1 778.9L1998.7 767.1L1999.2 779.3L1999.7 777.5L2000.0 770.8L2000.2 770.5L2000.8 775.6L2001.3 773.4L2001.8 767.3L2002.3 770.3L2002.9 777.6L2003.4 769.4L2003.9 762.8L2004.4 764.1L2005.0 765.0L2005.5 772.8L2006.0 768.8L2006.5 773.6L2007.1 768.3L2007.6 776.3L2008.1 772.2L2008.6 779.2L2009.2 777.0L2009.7 772.9L2010.2 780.7L2010.8 771.1L2011.3 773.6L2011.8 772.1L2012.3 767.3L2012.9 771.8L2013.4 768.3L2013.9 769.1L2014.4 769.3L2015.0 773.2L2015.5 776.1L2016.0 776.3L2016.5 777.5L2017.1 770.7L2017.6 772.3L2018.1 769.8L2018.6 781.7L2019.2 770.3L2019.7 777.5L2020.2 775.4L2020.7 769.0L2021.3 780.5L2021.8 775.5L2022.3 776.3L2022.8 779.2L2023.4 772.3L2023.9 773.5L2024.4 769.8L2024.9 780.8L2025.5 773.2L2026.0 780.2L2026.5 780.2L2027.0 773.3L2027.6 776.0L2028.1 770.4L2028.6 774.0L2029.1 771.3L2029.7 780.5L2030.2 776.4L2030.7 779.7L2031.2 769.7L2031.8 768.9L2032.3 765.6L2032.8 774.4L2033.4 769.8L2033.9 769.4L2034.4 772.0L2034.9 773.7L2035.5 776.5L2036.0 778.5L2036.5 760.5L2037.0 772.5L2037.6 779.0L2038.1 769.9L2038.6 773.5L2039.1 771.9L2039.7 776.6L2040.2 776.4L2040.7 771.4L2041.2 769.4L2041.8 775.0L2042.3 779.7" stroke="#9C00FF" stroke-width="9.4"/></g><rect x="1114.4" y="391.3" width="4.7" height="5" fill="#9C00FF"/><rect x="1128.1" y="391.3" width="4.7" height="5" fill="#9C00FF"/><rect x="1310.7" y="391.3" width="4.7" height="5" fill="#9C00FF"/><rect x="1320.7" y="391.3" width="4.7" height="5" fill="#9C00FF"/><rect x="1956.2" y="391.3" width="4.7" height="5" fill="#9C00FF"/><rect x="1963.5" y="391.3" width="4.7" height="5" fill="#9C00FF"/><path d="M300.7 1106.2V1097.4L302.7 1095.4H308.7L310.7 1097.4V1106.2Z" fill="#00A383"/><path d="M356.5 1106.2V1095.0L358.5 1093.0H364.5L366.5 1095.0V1106.2Z" fill="#00A383"/><path d="M406.5 1106.2V1097.4L408.5 1095.4H414.5L416.5 1097.4V1106.2Z" fill="#00A383"/><path d="M572.6 1106.2V1097.4L574.6 1095.4H580.6L582.6 1097.4V1106.2Z" fill="#00A383"/><path d="M640.3 1106.2V1097.4L642.3 1095.4H648.3L650.3 1097.4V1106.2Z" fill="#00A383"/><path d="M665.0 1106.2V1097.4L667.0 1095.4H673.0L675.0 1097.4V1106.2Z" fill="#00A383"/><path d="M672.2 1106.2V1095.0L674.2 1093.0H680.2L682.2 1095.0V1106.2Z" fill="#00A383"/><path d="M732.5 1106.2V1091.7L734.5 1089.7H740.5L742.5 1091.7V1106.2Z" fill="#00A383"/><path d="M760.6 1106.2V1097.4L762.6 1095.4H768.6L770.6 1097.4V1106.2Z" fill="#00A383"/><path d="M788.6 1106.2V1091.7L790.6 1089.7H796.6L798.6 1091.7V1106.2Z" fill="#00A383"/><path d="M836.6 1106.2V1085.8L838.6 1083.8H844.6L846.6 1085.8V1106.2Z" fill="#00A383"/><path d="M894.4 1106.2V1088.3L896.4 1086.3H902.4L904.4 1088.3V1106.2Z" fill="#00A383"/><path d="M966.8 1106.2V1081.9L968.8 1079.9H974.8L976.8 1081.9V1106.2Z" fill="#00A383"/><path d="M1014.6 1106.2V1097.4L1016.6 1095.4H1022.6L1024.6 1097.4V1106.2Z" fill="#00A383"/><path d="M1028.6 1106.2V1066.1L1030.6 1064.1H1036.6L1038.6 1066.1V1106.2Z" fill="#00A383"/><path d="M1056.5 1106.2V1077.7L1058.5 1075.7H1064.5L1066.5 1077.7V1106.2Z" fill="#00A383"/><path d="M1058.3 1106.2V1077.7L1060.3 1075.7H1066.3L1068.3 1077.7V1106.2Z" fill="#00A383"/><path d="M1072.6 1106.2V1083.3L1074.6 1081.3H1080.6L1082.6 1083.3V1106.2Z" fill="#00A383"/><path d="M1116.5 1106.2V973.6L1118.5 971.6H1124.5L1126.5 973.6V1106.2Z" fill="#00A383"/><path d="M1142.3 1106.2V1063.6L1144.3 1061.6H1150.3L1152.3 1063.6V1106.2Z" fill="#00A383"/><path d="M1182.2 1106.2V1005.8L1184.2 1003.8H1190.2L1192.2 1005.8V1106.2Z" fill="#00A383"/><path d="M1202.6 1106.2V1089.7L1204.6 1087.7H1210.6L1212.6 1089.7V1106.2Z" fill="#00A383"/><path d="M1235.0 1106.2V1091.8L1237.0 1089.8H1243.0L1245.0 1091.8V1106.2Z" fill="#00A383"/><path d="M1244.0 1106.2V1091.8L1246.0 1089.8H1252.0L1254.0 1091.8V1106.2Z" fill="#00A383"/><path d="M1262.4 1106.2V1097.6L1264.4 1095.6H1270.4L1272.4 1097.6V1106.2Z" fill="#00A383"/><path d="M1282.1 1106.2V1079.4L1284.1 1077.4H1290.1L1292.1 1079.4V1106.2Z" fill="#00A383"/><path d="M1313.2 1106.2V1097.6L1315.2 1095.6H1321.2L1323.2 1097.6V1106.2Z" fill="#00A383"/><path d="M1354.7 1106.2V1079.4L1356.7 1077.4H1362.7L1364.7 1079.4V1106.2Z" fill="#00A383"/><path d="M1392.5 1106.2V1095.5L1394.5 1093.5H1400.5L1402.5 1095.5V1106.2Z" fill="#00A383"/><path d="M1401.0 1106.2V1091.8L1403.0 1089.8H1409.0L1411.0 1091.8V1106.2Z" fill="#00A383"/><path d="M1410.0 1106.2V1091.8L1412.0 1089.8H1418.0L1420.0 1091.8V1106.2Z" fill="#00A383"/><path d="M1444.8 1106.2V1095.5L1446.8 1093.5H1452.8L1454.8 1095.5V1106.2Z" fill="#00A383"/><path d="M1456.5 1106.2V1095.5L1458.5 1093.5H1464.5L1466.5 1095.5V1106.2Z" fill="#00A383"/><path d="M1465.5 1106.2V1095.5L1467.5 1093.5H1473.5L1475.5 1095.5V1106.2Z" fill="#00A383"/><path d="M1478.0 1106.2V1097.6L1480.0 1095.6H1486.0L1488.0 1097.6V1106.2Z" fill="#00A383"/><path d="M1492.1 1106.2V1095.5L1494.1 1093.5H1500.1L1502.1 1095.5V1106.2Z" fill="#00A383"/><path d="M1508.7 1106.2V1095.5L1510.7 1093.5H1516.7L1518.7 1095.5V1106.2Z" fill="#00A383"/><path d="M1526.4 1106.2V1097.6L1528.4 1095.6H1534.4L1536.4 1097.6V1106.2Z" fill="#00A383"/><path d="M1547.1 1106.2V1097.6L1549.1 1095.6H1555.1L1557.1 1097.6V1106.2Z" fill="#00A383"/><path d="M1582.8 1106.2V1097.6L1584.8 1095.6H1590.8L1592.8 1097.6V1106.2Z" fill="#00A383"/><path d="M1592.0 1106.2V1095.5L1594.0 1093.5H1600.0L1602.0 1095.5V1106.2Z" fill="#00A383"/><path d="M1601.0 1106.2V1095.5L1603.0 1093.5H1609.0L1611.0 1095.5V1106.2Z" fill="#00A383"/><path d="M1626.9 1106.2V1095.5L1628.9 1093.5H1634.9L1636.9 1095.5V1106.2Z" fill="#00A383"/><path d="M1648.7 1106.2V1097.6L1650.7 1095.6H1656.7L1658.7 1097.6V1106.2Z" fill="#00A383"/><path d="M1664.7 1106.2V1095.5L1666.7 1093.5H1672.7L1674.7 1095.5V1106.2Z" fill="#00A383"/><path d="M1692.3 1106.2V1097.6L1694.3 1095.6H1700.3L1702.3 1097.6V1106.2Z" fill="#00A383"/><path d="M1708.6 1106.2V1091.9L1710.6 1089.9H1716.6L1718.6 1091.9V1106.2Z" fill="#00A383"/><path d="M1728.2 1106.2V1097.6L1730.2 1095.6H1736.2L1738.2 1097.6V1106.2Z" fill="#00A383"/><path d="M1761.7 1106.2V1097.6L1763.7 1095.6H1769.7L1771.7 1097.6V1106.2Z" fill="#00A383"/><path d="M1775.5 1106.2V1095.5L1777.5 1093.5H1783.5L1785.5 1095.5V1106.2Z" fill="#00A383"/><path d="M1807.4 1106.2V1097.6L1809.4 1095.6H1815.4L1817.4 1097.6V1106.2Z" fill="#00A383"/><path d="M1819.0 1106.2V1095.5L1821.0 1093.5H1827.0L1829.0 1095.5V1106.2Z" fill="#00A383"/><path d="M1839.2 1106.2V1093.4L1841.2 1091.4H1847.2L1849.2 1093.4V1106.2Z" fill="#00A383"/><path d="M1849.8 1106.2V1097.6L1851.8 1095.6H1857.8L1859.8 1097.6V1106.2Z" fill="#00A383"/><path d="M1880.6 1106.2V1095.5L1882.6 1093.5H1888.6L1890.6 1095.5V1106.2Z" fill="#00A383"/><path d="M1902.9 1106.2V1091.9L1904.9 1089.9H1910.9L1912.9 1091.9V1106.2Z" fill="#00A383"/><path d="M1930.5 1106.2V1093.4L1932.5 1091.4H1938.5L1940.5 1093.4V1106.2Z" fill="#00A383"/><path d="M1943.7 1106.2V1091.9L1945.7 1089.9H1951.7L1953.7 1091.9V1106.2Z" fill="#00A383"/><path d="M1972.7 1106.2V1095.5L1974.7 1093.5H1980.7L1982.7 1095.5V1106.2Z" fill="#00A383"/><path d="M1976.5 1106.2V1095.5L1978.5 1093.5H1984.5L1986.5 1095.5V1106.2Z" fill="#00A383"/><path d="M1988.6 1106.2V1095.5L1990.6 1093.5H1996.6L1998.6 1095.5V1106.2Z" fill="#00A383"/><path d="M1994.5 1106.2V1095.5L1996.5 1093.5H2002.5L2004.5 1095.5V1106.2Z" fill="#00A383"/><path d="M2009.1 1106.2V1095.5L2011.1 1093.5H2017.1L2019.1 1095.5V1106.2Z" fill="#00A383"/><path d="M2026.0 1106.2V1101.5L2028.0 1099.5H2034.0L2036.0 1101.5V1106.2Z" fill="#00A383"/><rect x="211" y="1105.2" width="1824" height="11.8" fill="#00A383"/><path d="M416.4 1304.2V1283.4L418.4 1281.4H424.4L426.4 1283.4V1304.2Z" fill="#3242A0"/><path d="M448.6 1304.2V1297.2L450.6 1295.2H456.6L458.6 1297.2V1304.2Z" fill="#3242A0"/><path d="M476.7 1304.2V1297.2L478.7 1295.2H484.7L486.7 1297.2V1304.2Z" fill="#3242A0"/><path d="M518.5 1304.2V1283.4L520.5 1281.4H526.5L528.5 1283.4V1304.2Z" fill="#3242A0"/><path d="M550.5 1304.2V1283.4L552.5 1281.4H558.5L560.5 1283.4V1304.2Z" fill="#3242A0"/><path d="M590.6 1304.2V1262.0L592.6 1260.0H598.6L600.6 1262.0V1304.2Z" fill="#3242A0"/><path d="M724.4 1304.2V1283.4L726.4 1281.4H732.4L734.4 1283.4V1304.2Z" fill="#3242A0"/><path d="M778.5 1304.2V1249.7L780.5 1247.7H786.5L788.5 1249.7V1304.2Z" fill="#3242A0"/><path d="M784.2 1304.2V1235.4L786.2 1233.4H792.2L794.2 1235.4V1304.2Z" fill="#3242A0"/><path d="M864.7 1304.2V1249.7L866.7 1247.7H872.7L874.7 1249.7V1304.2Z" fill="#3242A0"/><path d="M908.2 1304.2V1283.4L910.2 1281.4H916.2L918.2 1283.4V1304.2Z" fill="#3242A0"/><path d="M942.2 1304.2V1297.2L944.2 1295.2H950.2L952.2 1297.2V1304.2Z" fill="#3242A0"/><path d="M1008.6 1304.2V1283.4L1010.6 1281.4H1016.6L1018.6 1283.4V1304.2Z" fill="#3242A0"/><path d="M1033.3 1304.2V1297.2L1035.3 1295.2H1041.3L1043.3 1297.2V1304.2Z" fill="#3242A0"/><path d="M1041.1 1304.2V1262.0L1043.1 1260.0H1049.1L1051.1 1262.0V1304.2Z" fill="#3242A0"/><path d="M1100.5 1304.2V1283.4L1102.5 1281.4H1108.5L1110.5 1283.4V1304.2Z" fill="#3242A0"/><path d="M1122.4 1304.2V1297.2L1124.4 1295.2H1130.4L1132.4 1297.2V1304.2Z" fill="#3242A0"/><path d="M1186.8 1304.2V1261.7L1188.8 1259.7H1194.8L1196.8 1261.7V1304.2Z" fill="#3242A0"/><path d="M1196.4 1304.2V1261.7L1198.4 1259.7H1204.4L1206.4 1261.7V1304.2Z" fill="#3242A0"/><path d="M1218.2 1304.2V1297.5L1220.2 1295.5H1226.2L1228.2 1297.5V1304.2Z" fill="#3242A0"/><path d="M1226.1 1304.2V1283.4L1228.1 1281.4H1234.1L1236.1 1283.4V1304.2Z" fill="#3242A0"/><path d="M1276.2 1304.2V1221.5L1278.2 1219.5H1284.2L1286.2 1221.5V1304.2Z" fill="#3242A0"/><path d="M1285.9 1304.2V1283.4L1287.9 1281.4H1293.9L1295.9 1283.4V1304.2Z" fill="#3242A0"/><path d="M1298.6 1304.2V1193.5L1300.6 1191.5H1306.6L1308.6 1193.5V1304.2Z" fill="#3242A0"/><path d="M1305.4 1304.2V1263.0L1307.4 1261.0H1313.4L1315.4 1263.0V1304.2Z" fill="#3242A0"/><path d="M1312.8 1304.2V1249.6L1314.8 1247.6H1320.8L1322.8 1249.6V1304.2Z" fill="#3242A0"/><path d="M1339.0 1304.2V1297.5L1341.0 1295.5H1347.0L1349.0 1297.5V1304.2Z" fill="#3242A0"/><path d="M1347.5 1304.2V1297.5L1349.5 1295.5H1355.5L1357.5 1297.5V1304.2Z" fill="#3242A0"/><path d="M1358.5 1304.2V1261.7L1360.5 1259.7H1366.5L1368.5 1261.7V1304.2Z" fill="#3242A0"/><path d="M1372.8 1304.2V1261.7L1374.8 1259.7H1380.8L1382.8 1261.7V1304.2Z" fill="#3242A0"/><path d="M1378.2 1304.2V1283.4L1380.2 1281.4H1386.2L1388.2 1283.4V1304.2Z" fill="#3242A0"/><path d="M1384.7 1304.2V1297.5L1386.7 1295.5H1392.7L1394.7 1297.5V1304.2Z" fill="#3242A0"/><path d="M1398.6 1304.2V1297.5L1400.6 1295.5H1406.6L1408.6 1297.5V1304.2Z" fill="#3242A0"/><path d="M1426.6 1304.2V1221.5L1428.6 1219.5H1434.6L1436.6 1221.5V1304.2Z" fill="#3242A0"/><rect x="211" y="1303.2" width="1824" height="11.8" fill="#5E51A0"/><path d="M1108.7 1518.5V1421.5L1110.7 1419.5H1116.7L1118.7 1421.5V1518.5Z" fill="#000"/><path d="M1298.6 1518.5V1459.3L1300.6 1457.3H1306.6L1308.6 1459.3V1518.5Z" fill="#000"/><path d="M1938.6 1518.5V1490.0L1940.6 1488.0H1946.6L1948.6 1490.0V1518.5Z" fill="#000"/><rect x="195" y="39.5" width="1855.3" height="18" fill="#000"/><rect x="195" y="1517.5" width="1855.3" height="17.5" fill="#000"/><rect x="195" y="39.5" width="15.8" height="1495.5" fill="#000"/><rect x="2034.5" y="39.5" width="15.8" height="1495.5" fill="#000"/><rect x="195.1" y="1530" width="15.8" height="25.3" fill="#000"/><rect x="326.5" y="1530" width="15.8" height="9" fill="#000"/><rect x="457.9" y="1530" width="15.8" height="25.3" fill="#000"/><rect x="589.3" y="1530" width="15.8" height="9" fill="#000"/><rect x="720.7" y="1530" width="15.8" height="25.3" fill="#000"/><rect x="852.1" y="1530" width="15.8" height="9" fill="#000"/><rect x="983.5" y="1530" width="15.8" height="25.3" fill="#000"/><rect x="1114.9" y="1530" width="15.8" height="9" fill="#000"/><rect x="1246.3" y="1530" width="15.8" height="25.3" fill="#000"/><rect x="1377.7" y="1530" width="15.8" height="9" fill="#000"/><rect x="1509.0" y="1530" width="15.8" height="25.3" fill="#000"/><rect x="1640.4" y="1530" width="15.8" height="9" fill="#000"/><rect x="1771.8" y="1530" width="15.8" height="25.3" fill="#000"/><rect x="1903.2" y="1530" width="15.8" height="9" fill="#000"/><rect x="2034.6" y="1530" width="15.8" height="25.3" fill="#000"/><path d="M1126.6 86.9L1143.7 108.5L1126.6 130.1L1109.5 108.5Z" fill="#000"/><path d="M1320.5 269.4L1337.8 291.0L1320.5 312.6L1303.2 291.0Z" fill="#000"/><path d="M1958.5 291.4L1975.8 313.0L1958.5 334.6L1941.2 313.0Z" fill="#000"/><path transform="translate(965.0,817.3) scale(0.975,1.000)" d="M0 10.5 C-2.3 4 -6 0 -11 0 C-16.5 0 -20 3.8 -20 9.5 C-20 15.5 -17 21 -12.5 28.5 L0 44 L12.5 28.5 C17 21 20 15.5 20 9.5 C20 3.8 16.5 0 11 0 C6 0 2.3 4 0 10.5Z" fill="#00A383"/><path transform="translate(1176.5,751.4) scale(0.975,1.000)" d="M0 10.5 C-2.3 4 -6 0 -11 0 C-16.5 0 -20 3.8 -20 9.5 C-20 15.5 -17 21 -12.5 28.5 L0 44 L12.5 28.5 C17 21 20 15.5 20 9.5 C20 3.8 16.5 0 11 0 C6 0 2.3 4 0 10.5Z" fill="#00A383"/><path transform="translate(1243.0,751.4) scale(0.975,1.000)" d="M0 10.5 C-2.3 4 -6 0 -11 0 C-16.5 0 -20 3.8 -20 9.5 C-20 15.5 -17 21 -12.5 28.5 L0 44 L12.5 28.5 C17 21 20 15.5 20 9.5 C20 3.8 16.5 0 11 0 C6 0 2.3 4 0 10.5Z" fill="#00A383"/><path transform="translate(2004.5,707.4) scale(0.975,1.000)" d="M0 10.5 C-2.3 4 -6 0 -11 0 C-16.5 0 -20 3.8 -20 9.5 C-20 15.5 -17 21 -12.5 28.5 L0 44 L12.5 28.5 C17 21 20 15.5 20 9.5 C20 3.8 16.5 0 11 0 C6 0 2.3 4 0 10.5Z" fill="#00A383"/><path transform="translate(1052.0,805.1) scale(0.977,1.000)" d="M-8.30 8.30A8.3 8.3 0 1 1 8.30 8.30A8.3 8.3 0 1 1 -8.30 8.30ZM-21.70 27.60A10.4 9.7 0 1 1 -0.90 27.60A10.4 9.7 0 1 1 -21.70 27.60ZM0.90 27.60A10.4 9.7 0 1 1 21.70 27.60A10.4 9.7 0 1 1 0.90 27.60ZM-12 23H12V32H-12ZM-1.9 14H1.9V26H-1.9ZM-1.6 30L1.6 30L1.8 40.5L3.9 43.6L-3.9 43.6L-1.8 40.5Z" fill="#5E51A0"/><path transform="translate(1212.5,777.3) scale(0.977,1.000)" d="M-8.30 8.30A8.3 8.3 0 1 1 8.30 8.30A8.3 8.3 0 1 1 -8.30 8.30ZM-21.70 27.60A10.4 9.7 0 1 1 -0.90 27.60A10.4 9.7 0 1 1 -21.70 27.60ZM0.90 27.60A10.4 9.7 0 1 1 21.70 27.60A10.4 9.7 0 1 1 0.90 27.60ZM-12 23H12V32H-12ZM-1.9 14H1.9V26H-1.9ZM-1.6 30L1.6 30L1.8 40.5L3.9 43.6L-3.9 43.6L-1.8 40.5Z" fill="#5E51A0"/><path transform="translate(1272.5,791.5) scale(0.977,1.000)" d="M-8.30 8.30A8.3 8.3 0 1 1 8.30 8.30A8.3 8.3 0 1 1 -8.30 8.30ZM-21.70 27.60A10.4 9.7 0 1 1 -0.90 27.60A10.4 9.7 0 1 1 -21.70 27.60ZM0.90 27.60A10.4 9.7 0 1 1 21.70 27.60A10.4 9.7 0 1 1 0.90 27.60ZM-12 23H12V32H-12ZM-1.9 14H1.9V26H-1.9ZM-1.6 30L1.6 30L1.8 40.5L3.9 43.6L-3.9 43.6L-1.8 40.5Z" fill="#5E51A0"/><path transform="translate(1428.6,777.5) scale(0.977,1.000)" d="M-8.30 8.30A8.3 8.3 0 1 1 8.30 8.30A8.3 8.3 0 1 1 -8.30 8.30ZM-21.70 27.60A10.4 9.7 0 1 1 -0.90 27.60A10.4 9.7 0 1 1 -21.70 27.60ZM0.90 27.60A10.4 9.7 0 1 1 21.70 27.60A10.4 9.7 0 1 1 0.90 27.60ZM-12 23H12V32H-12ZM-1.9 14H1.9V26H-1.9ZM-1.6 30L1.6 30L1.8 40.5L3.9 43.6L-3.9 43.6L-1.8 40.5Z" fill="#5E51A0"/><path transform="translate(1334.0,971.1) scale(1.042,1.000)" d="M0 10.5 C-2.3 4 -6 0 -11 0 C-16.5 0 -20 3.8 -20 9.5 C-20 15.5 -17 21 -12.5 28.5 L0 44 L12.5 28.5 C17 21 20 15.5 20 9.5 C20 3.8 16.5 0 11 0 C6 0 2.3 4 0 10.5Z" fill="#00A383"/><path transform="translate(1334.6,1147.0) scale(1.000,1.000)" d="M-8.30 8.30A8.3 8.3 0 1 1 8.30 8.30A8.3 8.3 0 1 1 -8.30 8.30ZM-21.70 27.60A10.4 9.7 0 1 1 -0.90 27.60A10.4 9.7 0 1 1 -21.70 27.60ZM0.90 27.60A10.4 9.7 0 1 1 21.70 27.60A10.4 9.7 0 1 1 0.90 27.60ZM-12 23H12V32H-12ZM-1.9 14H1.9V26H-1.9ZM-1.6 30L1.6 30L1.8 40.5L3.9 43.6L-3.9 43.6L-1.8 40.5Z" fill="#5E51A0"/><path d="M1338.9 1363.6L1355.8 1385.2L1338.9 1406.8L1322.1 1385.2Z" fill="#000"/><g font-family="'Liberation Serif', 'Times New Roman', serif" font-weight="bold"><text transform="translate(301.61,489.30) scale(0.9325,1)" font-size="80" fill="#000">NFF</text><text transform="translate(270.61,825.10) scale(0.9105,1)" font-size="80" fill="#9C00FF">e-NFP/NFF</text><text transform="translate(1394.50,1015.00) scale(0.8792,1)" font-size="79.5" fill="#00A383">Ni</text><text transform="translate(1466.47,1036.50) scale(1.0227,1)" font-size="50" fill="#00A383">8</text><text transform="translate(1492.76,1015.00) scale(0.9659,1)" font-size="79.5" fill="#00A383">P</text><text transform="translate(1532.73,1036.50) scale(1.0372,1)" font-size="50" fill="#00A383">3</text><text transform="translate(1614.46,1015.00) scale(0.9058,1)" font-size="79.5" fill="#00A383">PDF78-1668</text><text transform="translate(1399.06,1191.30) scale(0.9042,1)" font-size="79.5" fill="#5E51A0">Fe</text><text transform="translate(1474.99,1191.30) scale(0.9501,1)" font-size="79.5" fill="#5E51A0">P</text><text transform="translate(1519.97,1211.20) scale(0.8638,1)" font-size="50" fill="#5E51A0">4</text><text transform="translate(1614.46,1191.30) scale(0.9063,1)" font-size="79.5" fill="#5E51A0">PDF34-0995</text><text transform="translate(1384.68,1407.20) scale(0.8942,1)" font-size="79.5" fill="#000">FeNi</text><text transform="translate(1531.14,1426.50) scale(0.9814,1)" font-size="50" fill="#000">3</text><text transform="translate(1610.26,1407.20) scale(0.9056,1)" font-size="79.5" fill="#000">PDF38-0419</text><text transform="translate(152.12,1649.20) scale(1.0000,1)" font-size="94.0" fill="#000">10</text><text transform="translate(416.79,1649.20) scale(1.0000,1)" font-size="94.0" fill="#000">20</text><text transform="translate(679.58,1649.20) scale(1.0000,1)" font-size="94.0" fill="#000">30</text><text transform="translate(943.78,1649.20) scale(1.0000,1)" font-size="94.0" fill="#000">40</text><text transform="translate(1205.16,1649.20) scale(1.0000,1)" font-size="94.0" fill="#000">50</text><text transform="translate(1468.42,1649.20) scale(1.0000,1)" font-size="94.0" fill="#000">60</text><text transform="translate(1729.80,1649.20) scale(1.0000,1)" font-size="94.0" fill="#000">70</text><text transform="translate(1994.00,1649.20) scale(1.0000,1)" font-size="94.0" fill="#000">80</text><text transform="translate(839.02,1763.50) scale(0.9390,1)" font-size="126" fill="#000">2θ (degree)</text><text transform="translate(145.50,1184.71) rotate(-90) scale(1.0089,1)" font-size="126" fill="#000">Intensity (a.u.)</text></g></svg></body></html>
